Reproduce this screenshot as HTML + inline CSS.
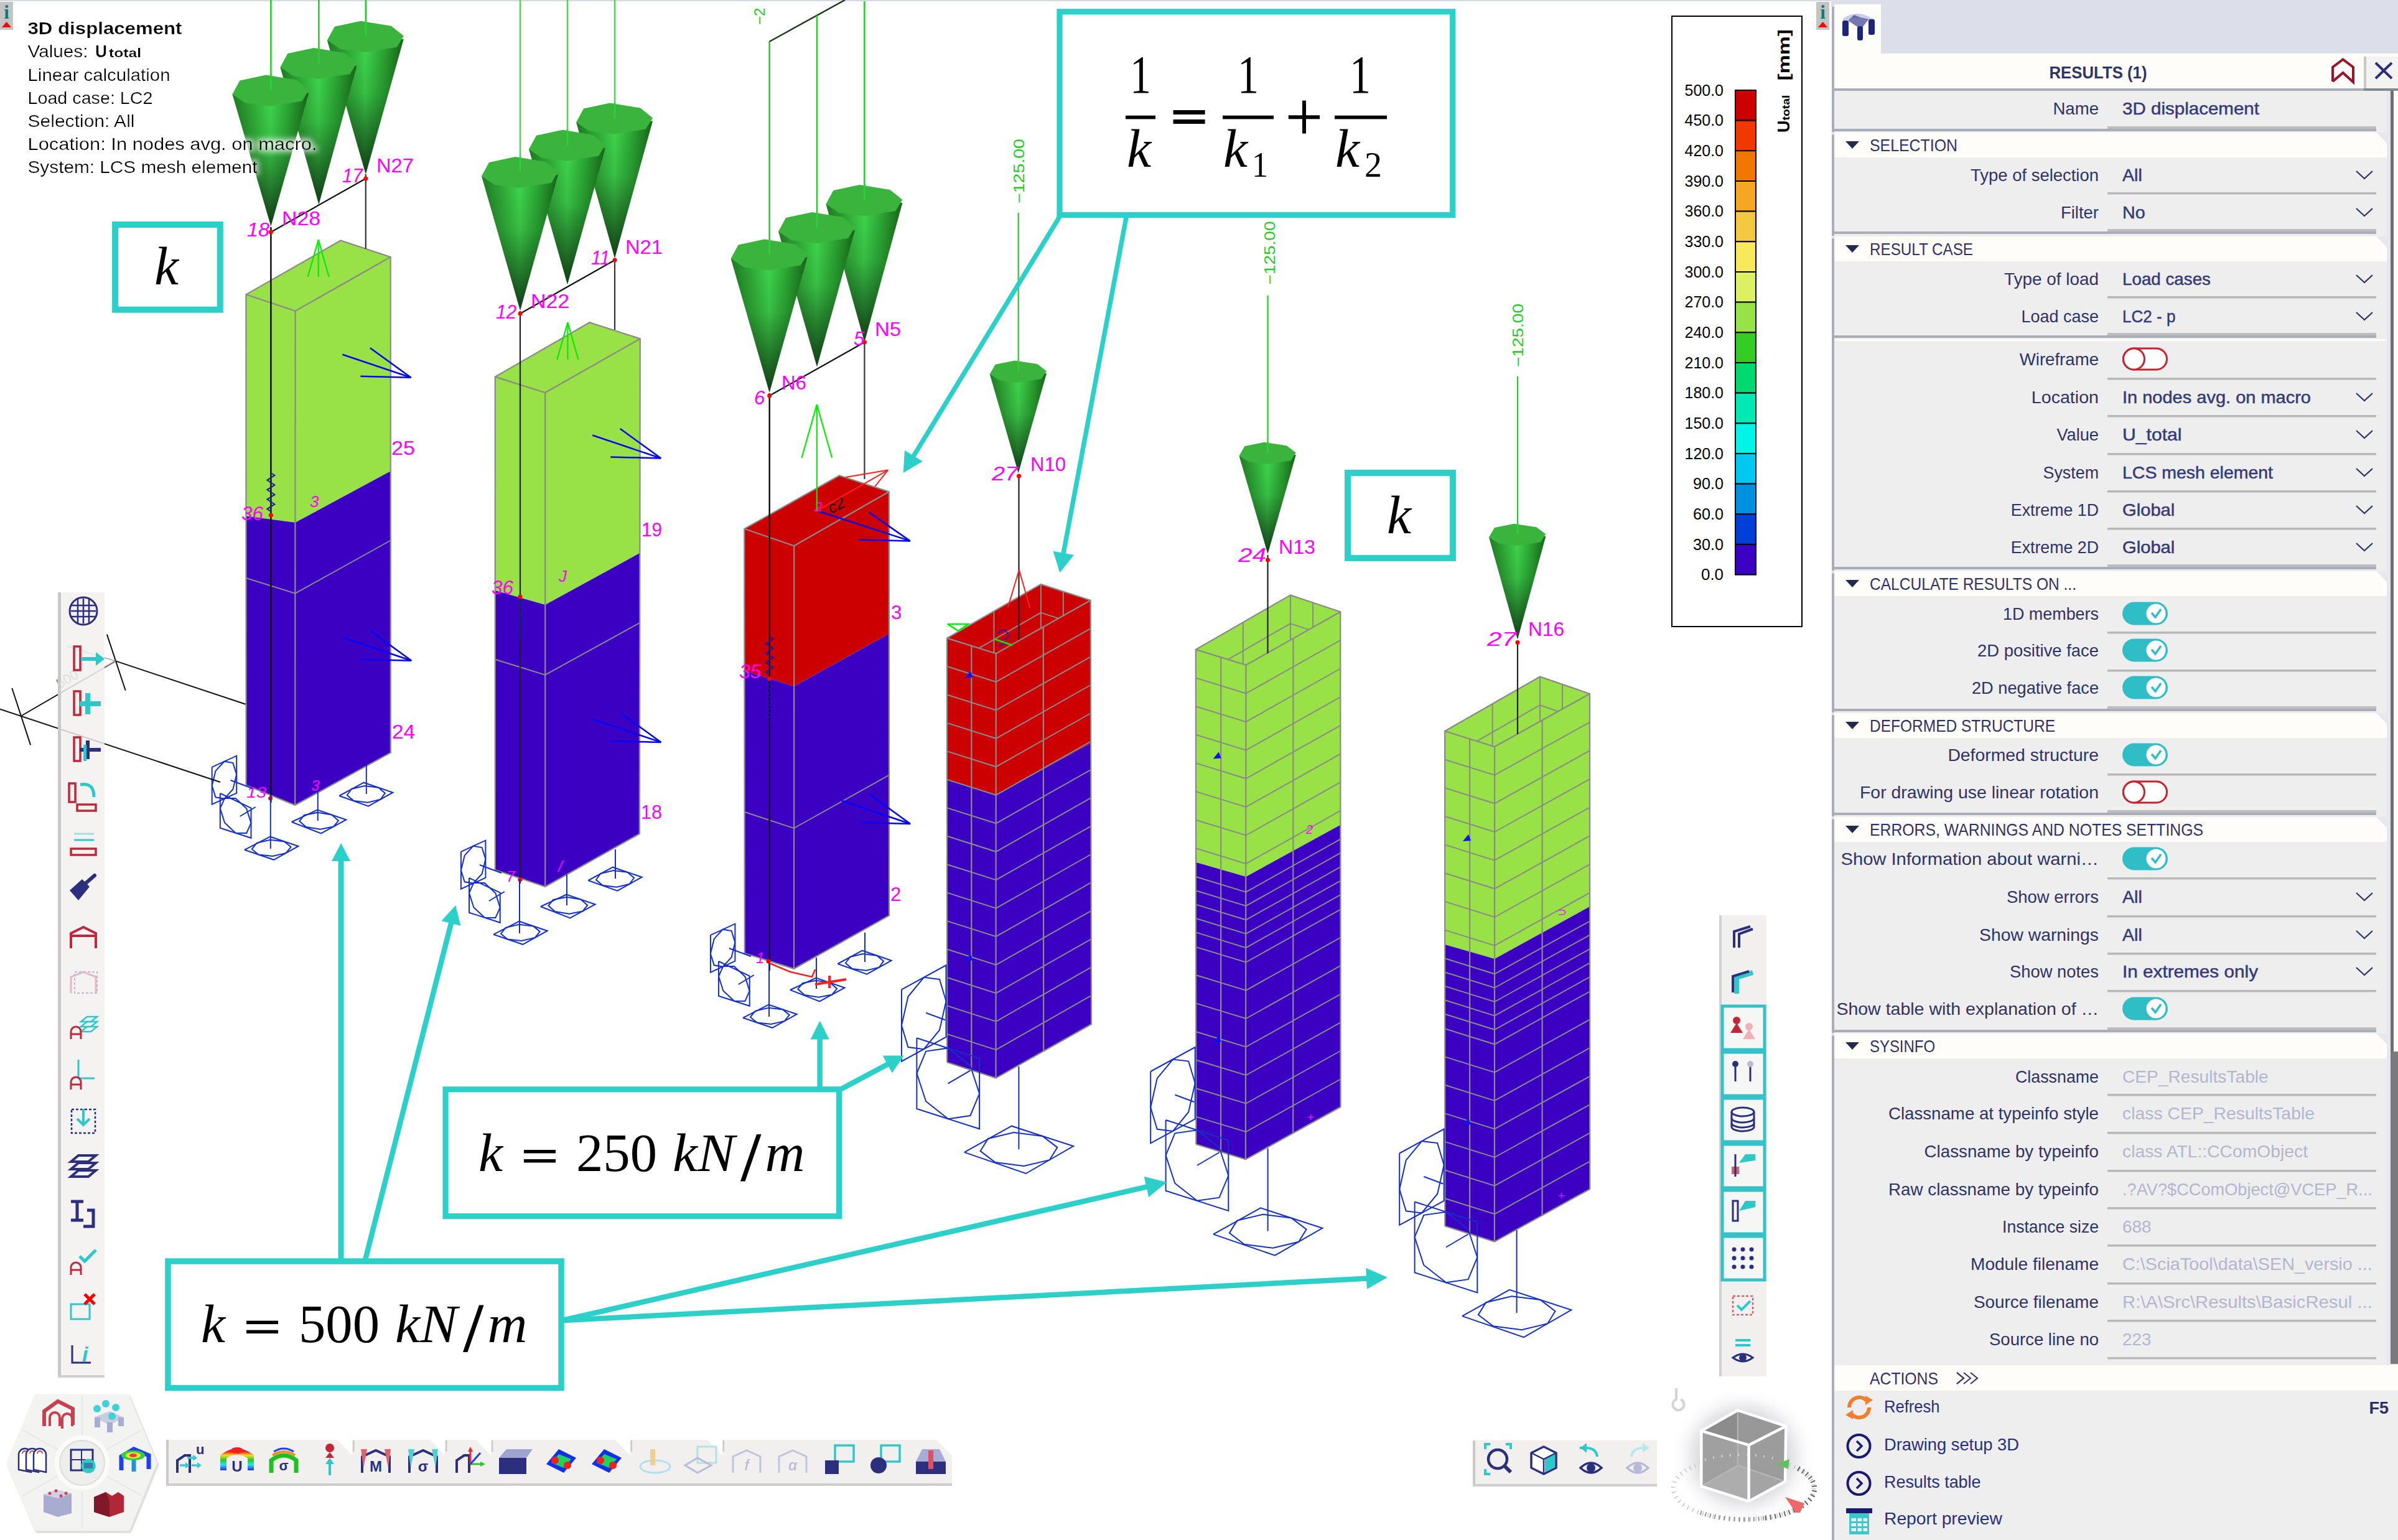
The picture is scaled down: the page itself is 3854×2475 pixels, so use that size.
<!DOCTYPE html><html><head><meta charset="utf-8"><style>html,body{margin:0;padding:0;background:#fff;width:3854px;height:2475px;overflow:hidden}svg{display:block}</style></head><body>
<svg width="3854" height="2475" viewBox="0 0 3854 2475">
<defs>
<linearGradient id="coneH" x1="0" y1="0" x2="1" y2="0">
<stop offset="0" stop-color="#1f7a22"/><stop offset="0.25" stop-color="#2fa836"/><stop offset="0.5" stop-color="#3fd84e"/><stop offset="0.75" stop-color="#2aa432"/><stop offset="1" stop-color="#166318"/></linearGradient>
<linearGradient id="coneV" x1="0" y1="0" x2="0" y2="1">
<stop offset="0" stop-color="#000" stop-opacity="0"/><stop offset="0.4" stop-color="#000" stop-opacity="0.12"/><stop offset="1" stop-color="#000" stop-opacity="0.72"/></linearGradient>
<radialGradient id="cubeGlow" cx="0.5" cy="0.5" r="0.5"><stop offset="0.45" stop-color="#c4c4c8" stop-opacity="0.95"/><stop offset="0.7" stop-color="#e0e0e4" stop-opacity="0.7"/><stop offset="1" stop-color="#fff" stop-opacity="0"/></radialGradient>
<filter id="glow" x="-10%" y="-30%" width="120%" height="160%"><feMorphology in="SourceAlpha" operator="dilate" radius="3" result="d"/><feGaussianBlur in="d" stdDeviation="5" result="b"/><feFlood flood-color="#ffffff" flood-opacity="0.75"/><feComposite in2="b" operator="in" result="w"/><feMerge><feMergeNode in="w"/><feMergeNode in="SourceGraphic"/></feMerge></filter>
<linearGradient id="rainbowV" x1="0" y1="1" x2="0" y2="0"><stop offset="0" stop-color="#2030e0"/><stop offset="0.3" stop-color="#30e0f0"/><stop offset="0.55" stop-color="#30c030"/><stop offset="0.8" stop-color="#f0e020"/><stop offset="1" stop-color="#f02020"/></linearGradient>
</defs>
<rect x="0" y="0" width="3854" height="2475" fill="#ffffff"/>
<rect x="0" y="0" width="3854" height="2" fill="#d6dae6"/>
<rect x="0.0" y="3.0" width="21" height="45" fill="#c4c4c4"/>
<text x="10.5" y="30.0" font-family='"Liberation Serif", serif' font-size="31" fill="#0a7a78" text-anchor="middle" font-weight="bold" font-style="normal" >i</text>
<polygon points="3.0,44.0 10.5,35.0 18.0,44.0" fill="#ff0000" stroke="none" stroke-width="0" />
<rect x="2919.0" y="3.0" width="21" height="45" fill="#c4c4c4"/>
<text x="2929.5" y="30.0" font-family='"Liberation Serif", serif' font-size="31" fill="#0a7a78" text-anchor="middle" font-weight="bold" font-style="normal" >i</text>
<polygon points="2922.0,44.0 2929.5,35.0 2937.0,44.0" fill="#ff0000" stroke="none" stroke-width="0" />
<polygon points="395.4,473.3 547.5,386.5 627.7,413.0 474.6,499.8" fill="#98e146" stroke="none" stroke-width="0" />
<polygon points="395.4,473.3 474.6,499.8 474.6,839.8 395.4,829.5" fill="#98e146" stroke="none" stroke-width="0" />
<polygon points="395.4,829.5 474.6,839.8 474.2,1294.0 395.6,1262.0" fill="#3b00c2" stroke="none" stroke-width="0" />
<polygon points="474.6,499.8 627.7,413.0 627.7,757.2 474.6,839.8" fill="#98e146" stroke="none" stroke-width="0" />
<polygon points="474.6,839.8 627.7,757.2 627.8,1209.7 474.2,1294.0" fill="#3b00c2" stroke="none" stroke-width="0" />
<polyline points="395.6,929.0 474.4,953.7 627.8,868.5" fill="none" stroke="#8a8a8a" stroke-width="2" />
<polyline points="395.6,1262.0 395.4,473.3 547.5,386.5 627.7,413.0 627.8,1209.7 474.2,1294.0 395.6,1262.0" fill="none" stroke="#8a8a8a" stroke-width="2.2" />
<polyline points="395.4,473.3 474.6,499.8 627.7,413.0" fill="none" stroke="#8a8a8a" stroke-width="2.2" />
<line x1="474.6" y1="499.8" x2="474.2" y2="1294.0" stroke="#8a8a8a" stroke-width="2.2" />
<polygon points="795.7,605.6 947.5,518.2 1028.8,544.4 876.2,631.0" fill="#98e146" stroke="none" stroke-width="0" />
<polygon points="795.7,605.6 876.2,631.0 876.2,972.0 795.7,949.0" fill="#98e146" stroke="none" stroke-width="0" />
<polygon points="795.7,949.0 876.2,972.0 876.2,1425.0 795.8,1398.0" fill="#3b00c2" stroke="none" stroke-width="0" />
<polygon points="876.2,631.0 1028.8,544.4 1028.8,888.6 876.2,972.0" fill="#98e146" stroke="none" stroke-width="0" />
<polygon points="876.2,972.0 1028.8,888.6 1027.8,1340.0 876.2,1425.0" fill="#3b00c2" stroke="none" stroke-width="0" />
<polyline points="795.7,1059.8 876.2,1084.7 1028.8,1000.6" fill="none" stroke="#8a8a8a" stroke-width="2" />
<polyline points="795.8,1398.0 795.7,605.6 947.5,518.2 1028.8,544.4 1027.8,1340.0 876.2,1425.0 795.8,1398.0" fill="none" stroke="#8a8a8a" stroke-width="2.2" />
<polyline points="795.7,605.6 876.2,631.0 1028.8,544.4" fill="none" stroke="#8a8a8a" stroke-width="2.2" />
<line x1="876.2" y1="631.0" x2="876.2" y2="1425.0" stroke="#8a8a8a" stroke-width="2.2" />
<polygon points="1196.3,849.8 1349.0,764.3 1428.8,790.3 1276.2,877.3" fill="#cc0000" stroke="none" stroke-width="0" />
<polygon points="1196.3,849.8 1276.2,877.3 1276.2,1103.0 1196.3,1077.8" fill="#cc0000" stroke="none" stroke-width="0" />
<polygon points="1196.3,1077.8 1276.2,1103.0 1276.0,1557.0 1196.8,1532.0" fill="#3b00c2" stroke="none" stroke-width="0" />
<polygon points="1276.2,877.3 1428.8,790.3 1428.8,1018.6 1276.2,1103.0" fill="#cc0000" stroke="none" stroke-width="0" />
<polygon points="1276.2,1103.0 1428.8,1018.6 1429.0,1471.4 1276.0,1557.0" fill="#3b00c2" stroke="none" stroke-width="0" />
<polyline points="1196.8,1305.0 1276.0,1331.0 1429.0,1245.7" fill="none" stroke="#8a8a8a" stroke-width="2" />
<polyline points="1196.8,1532.0 1196.3,849.8 1349.0,764.3 1428.8,790.3 1429.0,1471.4 1276.0,1557.0 1196.8,1532.0" fill="none" stroke="#8a8a8a" stroke-width="2.2" />
<polyline points="1196.3,849.8 1276.2,877.3 1428.8,790.3" fill="none" stroke="#8a8a8a" stroke-width="2.2" />
<line x1="1276.2" y1="877.3" x2="1276.0" y2="1557.0" stroke="#8a8a8a" stroke-width="2.2" />
<polygon points="1521.9,1025.6 1672.9,938.9 1752.7,964.8 1600.8,1050.4" fill="#cc0000" stroke="none" stroke-width="0" />
<line x1="1521.9" y1="1071.3" x2="1672.9" y2="984.6" stroke="#8a8a8a" stroke-width="2" />
<line x1="1672.9" y1="984.6" x2="1752.7" y2="1010.5" stroke="#8a8a8a" stroke-width="2" />
<line x1="1672.9" y1="938.9" x2="1672.9" y2="1030.3" stroke="#8a8a8a" stroke-width="2" />
<line x1="1597.4" y1="982.2" x2="1597.4" y2="1119.3" stroke="#8a8a8a" stroke-width="2" />
<line x1="1708.8" y1="950.6" x2="1708.8" y2="1042.0" stroke="#8a8a8a" stroke-width="2" />
<polygon points="1521.9,1025.6 1600.8,1050.4 1600.8,1277.7 1521.9,1253.5" fill="#cc0000" stroke="none" stroke-width="0" />
<polygon points="1521.9,1253.5 1600.8,1277.7 1600.5,1732.6 1522.1,1707.3" fill="#3b00c2" stroke="none" stroke-width="0" />
<polygon points="1600.8,1050.4 1752.7,964.8 1752.7,1194.5 1600.8,1277.7" fill="#cc0000" stroke="none" stroke-width="0" />
<polygon points="1600.8,1277.7 1752.7,1194.5 1754.0,1646.0 1600.5,1732.6" fill="#3b00c2" stroke="none" stroke-width="0" />
<polyline points="1521.9,1071.0 1600.8,1095.9 1752.7,1010.2" fill="none" stroke="#8a8a8a" stroke-width="2" />
<polyline points="1521.9,1116.5 1600.8,1141.4 1752.7,1055.6" fill="none" stroke="#8a8a8a" stroke-width="2" />
<polyline points="1521.9,1161.9 1600.8,1186.8 1752.7,1101.0" fill="none" stroke="#8a8a8a" stroke-width="2" />
<polyline points="1521.9,1207.4 1600.8,1232.3 1752.7,1146.5" fill="none" stroke="#8a8a8a" stroke-width="2" />
<polyline points="1521.9,1252.8 1600.8,1277.8 1752.7,1191.9" fill="none" stroke="#8a8a8a" stroke-width="2" />
<polyline points="1521.9,1298.3 1600.8,1323.3 1752.7,1237.3" fill="none" stroke="#8a8a8a" stroke-width="2" />
<polyline points="1521.9,1343.7 1600.8,1368.8 1752.7,1282.7" fill="none" stroke="#8a8a8a" stroke-width="2" />
<polyline points="1521.9,1389.2 1600.8,1414.2 1752.7,1328.1" fill="none" stroke="#8a8a8a" stroke-width="2" />
<polyline points="1521.9,1434.6 1600.8,1459.7 1752.7,1373.5" fill="none" stroke="#8a8a8a" stroke-width="2" />
<polyline points="1521.9,1480.1 1600.8,1505.2 1752.7,1418.9" fill="none" stroke="#8a8a8a" stroke-width="2" />
<polyline points="1521.9,1525.5 1600.8,1550.7 1752.7,1464.3" fill="none" stroke="#8a8a8a" stroke-width="2" />
<polyline points="1521.9,1571.0 1600.8,1596.2 1752.7,1509.8" fill="none" stroke="#8a8a8a" stroke-width="2" />
<polyline points="1521.9,1616.4 1600.8,1641.6 1752.7,1555.2" fill="none" stroke="#8a8a8a" stroke-width="2" />
<polyline points="1521.9,1661.9 1600.8,1687.1 1752.7,1600.6" fill="none" stroke="#8a8a8a" stroke-width="2" />
<line x1="1561.3" y1="1038.0" x2="1561.3" y2="1719.9" stroke="#8a8a8a" stroke-width="2.2" />
<line x1="1676.8" y1="1007.6" x2="1677.2" y2="1689.3" stroke="#8a8a8a" stroke-width="2.2" />
<polyline points="1522.1,1707.3 1521.9,1025.6 1672.9,938.9 1752.7,964.8 1754.0,1646.0 1600.5,1732.6 1522.1,1707.3" fill="none" stroke="#8a8a8a" stroke-width="2.2" />
<polyline points="1521.9,1025.6 1600.8,1050.4 1752.7,964.8" fill="none" stroke="#8a8a8a" stroke-width="2.2" />
<line x1="1600.8" y1="1050.4" x2="1600.5" y2="1732.6" stroke="#8a8a8a" stroke-width="2.2" />
<polygon points="1921.8,1043.9 2073.9,956.4 2154.3,983.2 2002.5,1068.9" fill="#98e146" stroke="none" stroke-width="0" />
<line x1="1921.8" y1="1089.6" x2="2073.9" y2="1002.1" stroke="#8a8a8a" stroke-width="2" />
<line x1="2073.9" y1="1002.1" x2="2154.3" y2="1028.9" stroke="#8a8a8a" stroke-width="2" />
<line x1="2073.9" y1="956.4" x2="2073.9" y2="1047.8" stroke="#8a8a8a" stroke-width="2" />
<line x1="1997.8" y1="1000.2" x2="1997.8" y2="1137.2" stroke="#8a8a8a" stroke-width="2" />
<line x1="2110.1" y1="968.5" x2="2110.1" y2="1059.9" stroke="#8a8a8a" stroke-width="2" />
<polygon points="1921.8,1043.9 2002.5,1068.9 2002.5,1409.0 1921.8,1385.7" fill="#98e146" stroke="none" stroke-width="0" />
<polygon points="1921.8,1385.7 2002.5,1409.0 2001.9,1863.4 1922.3,1839.0" fill="#3b00c2" stroke="none" stroke-width="0" />
<polygon points="2002.5,1068.9 2154.3,983.2 2154.3,1325.7 2002.5,1409.0" fill="#98e146" stroke="none" stroke-width="0" />
<polygon points="2002.5,1409.0 2154.3,1325.7 2154.5,1779.0 2001.9,1863.4" fill="#3b00c2" stroke="none" stroke-width="0" />
<polyline points="1921.8,1089.5 2002.5,1114.5 2154.3,1028.9" fill="none" stroke="#8a8a8a" stroke-width="2" />
<polyline points="1921.8,1135.2 2002.5,1160.1 2154.3,1074.5" fill="none" stroke="#8a8a8a" stroke-width="2" />
<polyline points="1921.8,1180.8 2002.5,1205.7 2154.3,1120.2" fill="none" stroke="#8a8a8a" stroke-width="2" />
<polyline points="1921.8,1226.4 2002.5,1251.3 2154.3,1165.9" fill="none" stroke="#8a8a8a" stroke-width="2" />
<polyline points="1921.8,1272.1 2002.5,1296.9 2154.3,1211.6" fill="none" stroke="#8a8a8a" stroke-width="2" />
<polyline points="1921.8,1317.7 2002.5,1342.5 2154.3,1257.2" fill="none" stroke="#8a8a8a" stroke-width="2" />
<polyline points="1921.8,1363.3 2002.5,1388.1 2154.3,1302.9" fill="none" stroke="#8a8a8a" stroke-width="2" />
<polyline points="1921.8,1409.0 2002.5,1433.7 2154.3,1348.6" fill="none" stroke="#8a8a8a" stroke-width="2" />
<polyline points="1921.8,1431.2 2002.5,1455.9 2154.3,1370.8" fill="none" stroke="#8a8a8a" stroke-width="2" />
<polyline points="1921.8,1453.6 2002.5,1478.3 2154.3,1393.3" fill="none" stroke="#8a8a8a" stroke-width="2" />
<polyline points="1921.8,1476.0 2002.5,1500.7 2154.3,1415.7" fill="none" stroke="#8a8a8a" stroke-width="2" />
<polyline points="1921.8,1498.4 2002.5,1523.1 2154.3,1438.1" fill="none" stroke="#8a8a8a" stroke-width="2" />
<polyline points="1921.8,1521.9 2002.5,1546.5 2154.3,1461.6" fill="none" stroke="#8a8a8a" stroke-width="2" />
<polyline points="1921.8,1567.0 2002.5,1591.6 2154.3,1506.8" fill="none" stroke="#8a8a8a" stroke-width="2" />
<polyline points="1921.8,1612.4 2002.5,1637.0 2154.3,1552.2" fill="none" stroke="#8a8a8a" stroke-width="2" />
<polyline points="1921.8,1658.0 2002.5,1682.5 2154.3,1597.8" fill="none" stroke="#8a8a8a" stroke-width="2" />
<polyline points="1921.8,1703.5 2002.5,1728.0 2154.3,1643.4" fill="none" stroke="#8a8a8a" stroke-width="2" />
<polyline points="1921.8,1749.0 2002.5,1773.5 2154.3,1689.0" fill="none" stroke="#8a8a8a" stroke-width="2" />
<polyline points="1921.8,1794.6 2002.5,1819.0 2154.3,1734.5" fill="none" stroke="#8a8a8a" stroke-width="2" />
<line x1="1962.2" y1="1056.4" x2="1962.1" y2="1851.2" stroke="#8a8a8a" stroke-width="2.2" />
<line x1="2078.4" y1="1026.1" x2="2078.2" y2="1821.2" stroke="#8a8a8a" stroke-width="2.2" />
<polyline points="1922.3,1839.0 1921.8,1043.9 2073.9,956.4 2154.3,983.2 2154.5,1779.0 2001.9,1863.4 1922.3,1839.0" fill="none" stroke="#8a8a8a" stroke-width="2.2" />
<polyline points="1921.8,1043.9 2002.5,1068.9 2154.3,983.2" fill="none" stroke="#8a8a8a" stroke-width="2.2" />
<line x1="2002.5" y1="1068.9" x2="2001.9" y2="1863.4" stroke="#8a8a8a" stroke-width="2.2" />
<polygon points="2322.1,1175.0 2475.0,1087.5 2555.0,1115.0 2402.1,1200.0" fill="#98e146" stroke="none" stroke-width="0" />
<line x1="2322.1" y1="1220.7" x2="2475.0" y2="1133.2" stroke="#8a8a8a" stroke-width="2" />
<line x1="2475.0" y1="1133.2" x2="2555.0" y2="1160.7" stroke="#8a8a8a" stroke-width="2" />
<line x1="2475.0" y1="1087.5" x2="2475.0" y2="1178.9" stroke="#8a8a8a" stroke-width="2" />
<line x1="2398.6" y1="1131.2" x2="2398.6" y2="1268.3" stroke="#8a8a8a" stroke-width="2" />
<line x1="2511.0" y1="1099.9" x2="2511.0" y2="1191.3" stroke="#8a8a8a" stroke-width="2" />
<polygon points="2322.1,1175.0 2402.1,1200.0 2402.1,1541.0 2322.1,1517.9" fill="#98e146" stroke="none" stroke-width="0" />
<polygon points="2322.1,1517.9 2402.1,1541.0 2401.9,1995.6 2322.3,1970.5" fill="#3b00c2" stroke="none" stroke-width="0" />
<polygon points="2402.1,1200.0 2555.0,1115.0 2555.0,1457.0 2402.1,1541.0" fill="#98e146" stroke="none" stroke-width="0" />
<polygon points="2402.1,1541.0 2555.0,1457.0 2555.2,1911.0 2401.9,1995.6" fill="#3b00c2" stroke="none" stroke-width="0" />
<polyline points="2322.1,1220.7 2402.1,1245.7 2555.0,1160.7" fill="none" stroke="#8a8a8a" stroke-width="2" />
<polyline points="2322.1,1266.3 2402.1,1291.3 2555.0,1206.4" fill="none" stroke="#8a8a8a" stroke-width="2" />
<polyline points="2322.1,1312.0 2402.1,1337.0 2555.0,1252.1" fill="none" stroke="#8a8a8a" stroke-width="2" />
<polyline points="2322.1,1357.6 2402.1,1382.7 2555.0,1297.7" fill="none" stroke="#8a8a8a" stroke-width="2" />
<polyline points="2322.1,1403.3 2402.1,1428.3 2555.0,1343.4" fill="none" stroke="#8a8a8a" stroke-width="2" />
<polyline points="2322.1,1448.9 2402.1,1474.0 2555.0,1389.1" fill="none" stroke="#8a8a8a" stroke-width="2" />
<polyline points="2322.1,1494.6 2402.1,1519.6 2555.0,1434.8" fill="none" stroke="#8a8a8a" stroke-width="2" />
<polyline points="2322.1,1540.3 2402.1,1565.3 2555.0,1480.5" fill="none" stroke="#8a8a8a" stroke-width="2" />
<polyline points="2322.1,1562.5 2402.1,1587.5 2555.0,1502.7" fill="none" stroke="#8a8a8a" stroke-width="2" />
<polyline points="2322.1,1584.9 2402.1,1610.0 2555.0,1525.2" fill="none" stroke="#8a8a8a" stroke-width="2" />
<polyline points="2322.1,1607.3 2402.1,1632.4 2555.0,1547.6" fill="none" stroke="#8a8a8a" stroke-width="2" />
<polyline points="2322.1,1629.8 2402.1,1654.8 2555.0,1570.1" fill="none" stroke="#8a8a8a" stroke-width="2" />
<polyline points="2322.1,1653.2 2402.1,1678.3 2555.0,1593.5" fill="none" stroke="#8a8a8a" stroke-width="2" />
<polyline points="2322.1,1698.4 2402.1,1723.4 2555.0,1638.7" fill="none" stroke="#8a8a8a" stroke-width="2" />
<polyline points="2322.1,1743.8 2402.1,1768.9 2555.0,1684.2" fill="none" stroke="#8a8a8a" stroke-width="2" />
<polyline points="2322.1,1789.4 2402.1,1814.4 2555.0,1729.8" fill="none" stroke="#8a8a8a" stroke-width="2" />
<polyline points="2322.1,1834.9 2402.1,1860.0 2555.0,1775.3" fill="none" stroke="#8a8a8a" stroke-width="2" />
<polyline points="2322.1,1880.5 2402.1,1905.6 2555.0,1820.9" fill="none" stroke="#8a8a8a" stroke-width="2" />
<polyline points="2322.1,1926.0 2402.1,1951.1 2555.0,1866.5" fill="none" stroke="#8a8a8a" stroke-width="2" />
<line x1="2362.1" y1="1187.5" x2="2362.1" y2="1983.0" stroke="#8a8a8a" stroke-width="2.2" />
<line x1="2478.6" y1="1157.5" x2="2478.6" y2="1953.3" stroke="#8a8a8a" stroke-width="2.2" />
<polyline points="2322.3,1970.5 2322.1,1175.0 2475.0,1087.5 2555.0,1115.0 2555.2,1911.0 2401.9,1995.6 2322.3,1970.5" fill="none" stroke="#8a8a8a" stroke-width="2.2" />
<polyline points="2322.1,1175.0 2402.1,1200.0 2555.0,1115.0" fill="none" stroke="#8a8a8a" stroke-width="2.2" />
<line x1="2402.1" y1="1200.0" x2="2401.9" y2="1995.6" stroke="#8a8a8a" stroke-width="2.2" />
<line x1="587.8" y1="0.0" x2="587.8" y2="62.7" stroke="#22cc22" stroke-width="2.5" />
<line x1="512.4" y1="0.0" x2="512.4" y2="106.0" stroke="#22cc22" stroke-width="2.5" />
<line x1="435.4" y1="0.0" x2="435.4" y2="149.4" stroke="#22cc22" stroke-width="2.5" />
<polygon points="525.8,64.7 648.8,62.7 587.8,280.0" fill="url(#coneH)" stroke="none" stroke-width="0" />
<polygon points="525.8,64.7 648.8,62.7 587.8,280.0" fill="url(#coneV)" stroke="none" stroke-width="0" />
<polygon points="525.8,64.7 537.8,42.7 579.8,33.7 628.8,41.7 648.8,57.7 637.8,75.7 586.8,83.7 546.8,78.7" fill="#3bb43d" stroke="none" stroke-width="0" />
<line x1="587.8" y1="32.7" x2="587.8" y2="58.7" stroke="#2cd03a" stroke-width="2.5" />
<polygon points="450.4,108.0 573.4,106.0 512.4,328.6" fill="url(#coneH)" stroke="none" stroke-width="0" />
<polygon points="450.4,108.0 573.4,106.0 512.4,328.6" fill="url(#coneV)" stroke="none" stroke-width="0" />
<polygon points="450.4,108.0 462.4,86.0 504.4,77.0 553.4,85.0 573.4,101.0 562.4,119.0 511.4,127.0 471.4,122.0" fill="#3bb43d" stroke="none" stroke-width="0" />
<line x1="512.4" y1="76.0" x2="512.4" y2="102.0" stroke="#2cd03a" stroke-width="2.5" />
<polygon points="373.4,151.4 496.4,149.4 435.4,363.6" fill="url(#coneH)" stroke="none" stroke-width="0" />
<polygon points="373.4,151.4 496.4,149.4 435.4,363.6" fill="url(#coneV)" stroke="none" stroke-width="0" />
<polygon points="373.4,151.4 385.4,129.4 427.4,120.4 476.4,128.4 496.4,144.4 485.4,162.4 434.4,170.4 394.4,165.4" fill="#3bb43d" stroke="none" stroke-width="0" />
<line x1="435.4" y1="119.4" x2="435.4" y2="145.4" stroke="#2cd03a" stroke-width="2.5" />
<line x1="988.0" y1="0.0" x2="988.0" y2="194.5" stroke="#4ed84e" stroke-width="2.5" />
<line x1="912.0" y1="0.0" x2="912.0" y2="237.8" stroke="#4ed84e" stroke-width="2.5" />
<line x1="836.0" y1="0.0" x2="836.0" y2="281.0" stroke="#4ed84e" stroke-width="2.5" />
<polygon points="926.0,196.5 1049.0,194.5 988.0,415.0" fill="url(#coneH)" stroke="none" stroke-width="0" />
<polygon points="926.0,196.5 1049.0,194.5 988.0,415.0" fill="url(#coneV)" stroke="none" stroke-width="0" />
<polygon points="926.0,196.5 938.0,174.5 980.0,165.5 1029.0,173.5 1049.0,189.5 1038.0,207.5 987.0,215.5 947.0,210.5" fill="#3bb43d" stroke="none" stroke-width="0" />
<line x1="988.0" y1="164.5" x2="988.0" y2="190.5" stroke="#2cd03a" stroke-width="2.5" />
<polygon points="850.0,239.8 973.0,237.8 912.0,457.0" fill="url(#coneH)" stroke="none" stroke-width="0" />
<polygon points="850.0,239.8 973.0,237.8 912.0,457.0" fill="url(#coneV)" stroke="none" stroke-width="0" />
<polygon points="850.0,239.8 862.0,217.8 904.0,208.8 953.0,216.8 973.0,232.8 962.0,250.8 911.0,258.8 871.0,253.8" fill="#3bb43d" stroke="none" stroke-width="0" />
<line x1="912.0" y1="207.8" x2="912.0" y2="233.8" stroke="#2cd03a" stroke-width="2.5" />
<polygon points="774.0,283.0 897.0,281.0 836.0,499.0" fill="url(#coneH)" stroke="none" stroke-width="0" />
<polygon points="774.0,283.0 897.0,281.0 836.0,499.0" fill="url(#coneV)" stroke="none" stroke-width="0" />
<polygon points="774.0,283.0 786.0,261.0 828.0,252.0 877.0,260.0 897.0,276.0 886.0,294.0 835.0,302.0 795.0,297.0" fill="#3bb43d" stroke="none" stroke-width="0" />
<line x1="836.0" y1="251.0" x2="836.0" y2="277.0" stroke="#2cd03a" stroke-width="2.5" />
<line x1="1236.3" y1="67.0" x2="1358.0" y2="0.0" stroke="#1a3a1a" stroke-width="2.5" />
<line x1="1236.6" y1="67.0" x2="1236.6" y2="420.0" stroke="#22cc22" stroke-width="2.5" />
<line x1="1313.0" y1="25.0" x2="1313.0" y2="370.0" stroke="#22cc22" stroke-width="2.5" />
<line x1="1389.3" y1="2.0" x2="1389.3" y2="330.0" stroke="#22cc22" stroke-width="2.5" />
<polygon points="1327.4,328.0 1450.4,326.0 1389.4,549.6" fill="url(#coneH)" stroke="none" stroke-width="0" />
<polygon points="1327.4,328.0 1450.4,326.0 1389.4,549.6" fill="url(#coneV)" stroke="none" stroke-width="0" />
<polygon points="1327.4,328.0 1339.4,306.0 1381.4,297.0 1430.4,305.0 1450.4,321.0 1439.4,339.0 1388.4,347.0 1348.4,342.0" fill="#3bb43d" stroke="none" stroke-width="0" />
<line x1="1389.4" y1="296.0" x2="1389.4" y2="322.0" stroke="#2cd03a" stroke-width="2.5" />
<polygon points="1251.0,372.0 1374.0,370.0 1313.0,589.6" fill="url(#coneH)" stroke="none" stroke-width="0" />
<polygon points="1251.0,372.0 1374.0,370.0 1313.0,589.6" fill="url(#coneV)" stroke="none" stroke-width="0" />
<polygon points="1251.0,372.0 1263.0,350.0 1305.0,341.0 1354.0,349.0 1374.0,365.0 1363.0,383.0 1312.0,391.0 1272.0,386.0" fill="#3bb43d" stroke="none" stroke-width="0" />
<line x1="1313.0" y1="340.0" x2="1313.0" y2="366.0" stroke="#2cd03a" stroke-width="2.5" />
<polygon points="1174.6,415.4 1297.6,413.4 1236.6,631.0" fill="url(#coneH)" stroke="none" stroke-width="0" />
<polygon points="1174.6,415.4 1297.6,413.4 1236.6,631.0" fill="url(#coneV)" stroke="none" stroke-width="0" />
<polygon points="1174.6,415.4 1186.6,393.4 1228.6,384.4 1277.6,392.4 1297.6,408.4 1286.6,426.4 1235.6,434.4 1195.6,429.4" fill="#3bb43d" stroke="none" stroke-width="0" />
<line x1="1236.6" y1="383.4" x2="1236.6" y2="409.4" stroke="#2cd03a" stroke-width="2.5" />
<line x1="1636.7" y1="342.0" x2="1636.7" y2="598.8" stroke="#22cc22" stroke-width="2.2" />
<polygon points="1590.7,601.3 1682.0,599.9 1636.7,760.0" fill="url(#coneH)" stroke="none" stroke-width="0" />
<polygon points="1590.7,601.3 1682.0,599.9 1636.7,760.0" fill="url(#coneV)" stroke="none" stroke-width="0" />
<polygon points="1590.7,601.3 1599.6,585.8 1630.8,579.5 1667.1,585.1 1682.0,596.4 1673.8,609.1 1636.0,614.7 1606.3,611.2" fill="#3bb43d" stroke="none" stroke-width="0" />
<line x1="1636.7" y1="578.8" x2="1636.7" y2="597.1" stroke="#2cd03a" stroke-width="2.5" />
<line x1="2037.5" y1="475.0" x2="2037.5" y2="730.0" stroke="#22cc22" stroke-width="2.2" />
<polygon points="1991.5,732.5 2082.8,731.1 2037.5,890.0" fill="url(#coneH)" stroke="none" stroke-width="0" />
<polygon points="1991.5,732.5 2082.8,731.1 2037.5,890.0" fill="url(#coneV)" stroke="none" stroke-width="0" />
<polygon points="1991.5,732.5 2000.4,717.0 2031.6,710.7 2067.9,716.3 2082.8,727.6 2074.6,740.3 2036.8,745.9 2007.1,742.4" fill="#3bb43d" stroke="none" stroke-width="0" />
<line x1="2037.5" y1="710.0" x2="2037.5" y2="728.3" stroke="#2cd03a" stroke-width="2.5" />
<line x1="2439.0" y1="605.0" x2="2439.0" y2="861.0" stroke="#22cc22" stroke-width="2.2" />
<polygon points="2393.0,863.5 2484.3,862.1 2439.0,1027.5" fill="url(#coneH)" stroke="none" stroke-width="0" />
<polygon points="2393.0,863.5 2484.3,862.1 2439.0,1027.5" fill="url(#coneV)" stroke="none" stroke-width="0" />
<polygon points="2393.0,863.5 2401.9,848.0 2433.1,841.7 2469.4,847.3 2484.3,858.6 2476.1,871.3 2438.3,876.9 2408.6,873.4" fill="#3bb43d" stroke="none" stroke-width="0" />
<line x1="2439.0" y1="841.0" x2="2439.0" y2="859.3" stroke="#2cd03a" stroke-width="2.5" />
<text transform="translate(1646.0,327.0) rotate(-90)" font-family='"Liberation Sans", sans-serif' font-size="24" fill="#22cc22" textLength="104.0" lengthAdjust="spacingAndGlyphs">−125.00</text>
<text transform="translate(2048.5,457.5) rotate(-90)" font-family='"Liberation Sans", sans-serif' font-size="24" fill="#22cc22" textLength="102.0" lengthAdjust="spacingAndGlyphs">−125.00</text>
<text transform="translate(2448.0,590.0) rotate(-90)" font-family='"Liberation Sans", sans-serif' font-size="24" fill="#22cc22" textLength="102.0" lengthAdjust="spacingAndGlyphs">−125.00</text>
<text transform="translate(1229.0,40.0) rotate(-90)" font-family='"Liberation Sans", sans-serif' font-size="24" fill="#22cc22">−2</text>
<line x1="435.4" y1="373.0" x2="587.8" y2="287.0" stroke="#111" stroke-width="2.2" />
<line x1="587.8" y1="280.0" x2="587.8" y2="400.0" stroke="#333" stroke-width="2.2" />
<line x1="435.4" y1="365.0" x2="435.4" y2="1290.0" stroke="#111" stroke-width="2.5" />
<line x1="836.0" y1="504.0" x2="988.0" y2="418.0" stroke="#111" stroke-width="2.2" />
<line x1="988.0" y1="418.0" x2="988.0" y2="530.0" stroke="#333" stroke-width="2.2" />
<line x1="836.0" y1="500.0" x2="836.0" y2="1420.0" stroke="#222" stroke-width="2.2" />
<line x1="1236.6" y1="636.0" x2="1389.4" y2="550.0" stroke="#111" stroke-width="2.2" />
<line x1="1389.4" y1="550.0" x2="1389.4" y2="770.0" stroke="#333" stroke-width="2.2" />
<line x1="1236.7" y1="632.0" x2="1236.7" y2="1560.0" stroke="#111" stroke-width="2.5" />
<line x1="1637.5" y1="762.0" x2="1637.5" y2="1028.0" stroke="#222" stroke-width="2.2" />
<line x1="2037.5" y1="892.0" x2="2037.5" y2="1050.0" stroke="#222" stroke-width="2.2" />
<line x1="2439.0" y1="1029.0" x2="2439.0" y2="1180.0" stroke="#222" stroke-width="2.2" />
<circle cx="435.4" cy="373.0" r="3.5" fill="#ff0000"/>
<circle cx="587.8" cy="287.0" r="3.5" fill="#ff0000"/>
<circle cx="836.0" cy="504.0" r="3.5" fill="#ff0000"/>
<circle cx="988.0" cy="418.0" r="3.5" fill="#ff0000"/>
<circle cx="1236.6" cy="636.0" r="3.5" fill="#ff0000"/>
<circle cx="1389.4" cy="550.0" r="3.5" fill="#ff0000"/>
<circle cx="1637.5" cy="765.0" r="3.5" fill="#ff0000"/>
<circle cx="2037.5" cy="900.0" r="3.5" fill="#ff0000"/>
<circle cx="2439.0" cy="1032.5" r="3.5" fill="#ff0000"/>
<circle cx="435.4" cy="828.0" r="3.5" fill="#ff0000"/>
<circle cx="836.0" cy="959.0" r="3.5" fill="#ff0000"/>
<circle cx="1236.7" cy="1091.0" r="3.5" fill="#ff0000"/>
<circle cx="434.6" cy="1283.0" r="3.5" fill="#ff0000"/>
<circle cx="835.8" cy="1413.7" r="3.5" fill="#ff0000"/>
<circle cx="1235.0" cy="1545.0" r="3.5" fill="#ff0000"/>
<g filter="url(#glow)">
<text x="44.5" y="55.3" font-family='"Liberation Sans", sans-serif' font-size="28.5" fill="#000" text-anchor="start" font-weight="bold" font-style="normal" textLength="248.0" lengthAdjust="spacingAndGlyphs" >3D displacement</text>
<text x="44.5" y="92.2" font-family='"Liberation Sans", sans-serif' font-size="28.5" fill="#000" text-anchor="start" font-weight="normal" font-style="normal" textLength="97.0" lengthAdjust="spacingAndGlyphs" >Values: </text>
<text x="153.0" y="92.2" font-family='"Liberation Sans", sans-serif' font-size="28.5" fill="#000" text-anchor="start" font-weight="bold" font-style="normal" textLength="19.0" lengthAdjust="spacingAndGlyphs" >U</text>
<text x="175.0" y="92.2" font-family='"Liberation Sans", sans-serif' font-size="20" fill="#000" text-anchor="start" font-weight="bold" font-style="normal" textLength="52.0" lengthAdjust="spacingAndGlyphs" >total</text>
<text x="44.5" y="130.0" font-family='"Liberation Sans", sans-serif' font-size="28.5" fill="#000" text-anchor="start" font-weight="normal" font-style="normal" textLength="229.0" lengthAdjust="spacingAndGlyphs" >Linear calculation</text>
<text x="44.5" y="167.0" font-family='"Liberation Sans", sans-serif' font-size="28.5" fill="#000" text-anchor="start" font-weight="normal" font-style="normal" textLength="201.0" lengthAdjust="spacingAndGlyphs" >Load case: LC2</text>
<text x="44.5" y="204.0" font-family='"Liberation Sans", sans-serif' font-size="28.5" fill="#000" text-anchor="start" font-weight="normal" font-style="normal" textLength="172.0" lengthAdjust="spacingAndGlyphs" >Selection: All</text>
<text x="44.5" y="240.7" font-family='"Liberation Sans", sans-serif' font-size="28.5" fill="#000" text-anchor="start" font-weight="normal" font-style="normal" textLength="465.0" lengthAdjust="spacingAndGlyphs" >Location: In nodes avg. on macro.</text>
<text x="44.5" y="277.6" font-family='"Liberation Sans", sans-serif' font-size="28.5" fill="#000" text-anchor="start" font-weight="normal" font-style="normal" textLength="369.0" lengthAdjust="spacingAndGlyphs" >System: LCS mesh element</text>
</g>
<text x="605.0" y="277.0" font-family='"Liberation Sans", sans-serif' font-size="31" fill="#ff00ff" text-anchor="start" font-weight="normal" font-style="normal" textLength="60.0" lengthAdjust="spacingAndGlyphs" >N27</text>
<text x="550.0" y="293.0" font-family='"Liberation Sans", sans-serif' font-size="31" fill="#ff00ff" text-anchor="start" font-weight="normal" font-style="italic" textLength="33.0" lengthAdjust="spacingAndGlyphs" >17</text>
<text x="453.0" y="362.0" font-family='"Liberation Sans", sans-serif' font-size="31" fill="#ff00ff" text-anchor="start" font-weight="normal" font-style="normal" textLength="62.0" lengthAdjust="spacingAndGlyphs" >N28</text>
<text x="397.0" y="380.0" font-family='"Liberation Sans", sans-serif' font-size="31" fill="#ff00ff" text-anchor="start" font-weight="normal" font-style="italic" textLength="36.0" lengthAdjust="spacingAndGlyphs" >18</text>
<text x="1005.0" y="408.0" font-family='"Liberation Sans", sans-serif' font-size="31" fill="#ff00ff" text-anchor="start" font-weight="normal" font-style="normal" textLength="60.0" lengthAdjust="spacingAndGlyphs" >N21</text>
<text x="950.0" y="425.0" font-family='"Liberation Sans", sans-serif' font-size="31" fill="#ff00ff" text-anchor="start" font-weight="normal" font-style="italic" textLength="30.0" lengthAdjust="spacingAndGlyphs" >11</text>
<text x="853.0" y="495.0" font-family='"Liberation Sans", sans-serif' font-size="31" fill="#ff00ff" text-anchor="start" font-weight="normal" font-style="normal" textLength="62.0" lengthAdjust="spacingAndGlyphs" >N22</text>
<text x="797.0" y="512.0" font-family='"Liberation Sans", sans-serif' font-size="31" fill="#ff00ff" text-anchor="start" font-weight="normal" font-style="italic" textLength="33.0" lengthAdjust="spacingAndGlyphs" >12</text>
<text x="1406.0" y="540.0" font-family='"Liberation Sans", sans-serif' font-size="31" fill="#ff00ff" text-anchor="start" font-weight="normal" font-style="normal" textLength="42.0" lengthAdjust="spacingAndGlyphs" >N5</text>
<text x="1372.0" y="555.0" font-family='"Liberation Sans", sans-serif' font-size="31" fill="#ff00ff" text-anchor="start" font-weight="normal" font-style="italic" >5</text>
<text x="1256.0" y="626.0" font-family='"Liberation Sans", sans-serif' font-size="31" fill="#ff00ff" text-anchor="start" font-weight="normal" font-style="normal" textLength="40.0" lengthAdjust="spacingAndGlyphs" >N6</text>
<text x="1212.0" y="650.0" font-family='"Liberation Sans", sans-serif' font-size="31" fill="#ff00ff" text-anchor="start" font-weight="normal" font-style="italic" >6</text>
<text x="1656.0" y="757.0" font-family='"Liberation Sans", sans-serif' font-size="31" fill="#ff00ff" text-anchor="start" font-weight="normal" font-style="normal" textLength="57.0" lengthAdjust="spacingAndGlyphs" >N10</text>
<text x="1594.0" y="772.0" font-family='"Liberation Sans", sans-serif' font-size="31" fill="#ff00ff" text-anchor="start" font-weight="normal" font-style="italic" textLength="42.0" lengthAdjust="spacingAndGlyphs" >27</text>
<text x="2055.0" y="890.0" font-family='"Liberation Sans", sans-serif' font-size="31" fill="#ff00ff" text-anchor="start" font-weight="normal" font-style="normal" textLength="59.0" lengthAdjust="spacingAndGlyphs" >N13</text>
<text x="1990.0" y="903.0" font-family='"Liberation Sans", sans-serif' font-size="31" fill="#ff00ff" text-anchor="start" font-weight="normal" font-style="italic" textLength="45.0" lengthAdjust="spacingAndGlyphs" >24</text>
<text x="2456.0" y="1022.0" font-family='"Liberation Sans", sans-serif' font-size="31" fill="#ff00ff" text-anchor="start" font-weight="normal" font-style="normal" textLength="58.0" lengthAdjust="spacingAndGlyphs" >N16</text>
<text x="2390.0" y="1038.0" font-family='"Liberation Sans", sans-serif' font-size="31" fill="#ff00ff" text-anchor="start" font-weight="normal" font-style="italic" textLength="47.0" lengthAdjust="spacingAndGlyphs" >27</text>
<text x="629.0" y="731.0" font-family='"Liberation Sans", sans-serif' font-size="31" fill="#ff00ff" text-anchor="start" font-weight="normal" font-style="normal" textLength="38.0" lengthAdjust="spacingAndGlyphs" >25</text>
<text x="630.0" y="1187.0" font-family='"Liberation Sans", sans-serif' font-size="31" fill="#ff00ff" text-anchor="start" font-weight="normal" font-style="normal" textLength="37.0" lengthAdjust="spacingAndGlyphs" >24</text>
<text x="1031.0" y="862.0" font-family='"Liberation Sans", sans-serif' font-size="31" fill="#ff00ff" text-anchor="start" font-weight="normal" font-style="normal" textLength="33.0" lengthAdjust="spacingAndGlyphs" >19</text>
<text x="1030.0" y="1316.0" font-family='"Liberation Sans", sans-serif' font-size="31" fill="#ff00ff" text-anchor="start" font-weight="normal" font-style="normal" textLength="34.0" lengthAdjust="spacingAndGlyphs" >18</text>
<text x="1432.0" y="995.0" font-family='"Liberation Sans", sans-serif' font-size="31" fill="#ff00ff" text-anchor="start" font-weight="normal" font-style="normal" >3</text>
<text x="1431.0" y="1448.0" font-family='"Liberation Sans", sans-serif' font-size="31" fill="#ff00ff" text-anchor="start" font-weight="normal" font-style="normal" >2</text>
<text x="388.0" y="836.0" font-family='"Liberation Sans", sans-serif' font-size="31" fill="#ff00ff" text-anchor="start" font-weight="normal" font-style="italic" textLength="35.0" lengthAdjust="spacingAndGlyphs" >36</text>
<text x="790.0" y="955.0" font-family='"Liberation Sans", sans-serif' font-size="31" fill="#ff00ff" text-anchor="start" font-weight="normal" font-style="italic" textLength="35.0" lengthAdjust="spacingAndGlyphs" >36</text>
<text x="1188.0" y="1090.0" font-family='"Liberation Sans", sans-serif' font-size="31" fill="#ff00ff" text-anchor="start" font-weight="normal" font-style="italic" textLength="35.0" lengthAdjust="spacingAndGlyphs" >35</text>
<text x="498.0" y="815.0" font-family='"Liberation Sans", sans-serif' font-size="26" fill="#ff00ff" text-anchor="start" font-weight="normal" font-style="italic" >3</text>
<text x="898.0" y="935.0" font-family='"Liberation Sans", sans-serif' font-size="26" fill="#ff00ff" text-anchor="start" font-weight="normal" font-style="italic" >J</text>
<text x="396.0" y="1282.0" font-family='"Liberation Sans", sans-serif' font-size="24" fill="#ff00ff" text-anchor="start" font-weight="normal" font-style="italic" textLength="32.0" lengthAdjust="spacingAndGlyphs" >13</text>
<text x="500.0" y="1271.0" font-family='"Liberation Sans", sans-serif' font-size="24" fill="#ff00ff" text-anchor="start" font-weight="normal" font-style="italic" >3</text>
<text x="814.0" y="1417.0" font-family='"Liberation Sans", sans-serif' font-size="24" fill="#ff00ff" text-anchor="start" font-weight="normal" font-style="italic" >7</text>
<text x="897.0" y="1401.0" font-family='"Liberation Sans", sans-serif' font-size="24" fill="#ff00ff" text-anchor="start" font-weight="normal" font-style="italic" >/</text>
<text x="1215.0" y="1548.0" font-family='"Liberation Sans", sans-serif' font-size="24" fill="#ff00ff" text-anchor="start" font-weight="normal" font-style="italic" >1</text>
<line x1="550.4" y1="569.8" x2="660.4" y2="606.8" stroke="#0000ff" stroke-width="2.5" />
<line x1="594.9" y1="559.3" x2="660.4" y2="606.8" stroke="#0000ff" stroke-width="2.5" />
<line x1="579.4" y1="604.8" x2="660.4" y2="606.8" stroke="#0000ff" stroke-width="2.5" />
<line x1="551.2" y1="1024.7" x2="661.2" y2="1061.7" stroke="#0000ff" stroke-width="2.5" />
<line x1="595.7" y1="1014.2" x2="661.2" y2="1061.7" stroke="#0000ff" stroke-width="2.5" />
<line x1="580.2" y1="1059.7" x2="661.2" y2="1061.7" stroke="#0000ff" stroke-width="2.5" />
<line x1="952.2" y1="699.5" x2="1062.2" y2="736.5" stroke="#0000ff" stroke-width="2.5" />
<line x1="996.7" y1="689.0" x2="1062.2" y2="736.5" stroke="#0000ff" stroke-width="2.5" />
<line x1="981.2" y1="734.5" x2="1062.2" y2="736.5" stroke="#0000ff" stroke-width="2.5" />
<line x1="952.3" y1="1155.9" x2="1062.3" y2="1192.9" stroke="#0000ff" stroke-width="2.5" />
<line x1="996.8" y1="1145.4" x2="1062.3" y2="1192.9" stroke="#0000ff" stroke-width="2.5" />
<line x1="981.3" y1="1190.9" x2="1062.3" y2="1192.9" stroke="#0000ff" stroke-width="2.5" />
<line x1="1352.9" y1="1287.0" x2="1462.9" y2="1324.0" stroke="#0000ff" stroke-width="2.5" />
<line x1="1397.4" y1="1276.5" x2="1462.9" y2="1324.0" stroke="#0000ff" stroke-width="2.5" />
<line x1="1381.9" y1="1322.0" x2="1462.9" y2="1324.0" stroke="#0000ff" stroke-width="2.5" />
<line x1="1312.8" y1="820.8" x2="1462.7" y2="869.4" stroke="#0000ff" stroke-width="2.5" />
<line x1="1396.8" y1="823.5" x2="1462.7" y2="869.4" stroke="#0000ff" stroke-width="2.5" />
<line x1="1380.6" y1="867.5" x2="1462.7" y2="869.4" stroke="#0000ff" stroke-width="2.5" />
<text transform="translate(1336,826) rotate(-28)" font-family='"Liberation Sans", sans-serif' font-size="26" font-style="italic" fill="#111">c2</text>
<text x="1309.0" y="822.0" font-family='"Liberation Sans", sans-serif' font-size="22" fill="#ff00ff" text-anchor="start" font-weight="normal" font-style="italic" >2</text>
<line x1="511.7" y1="385.5" x2="494.7" y2="445.0" stroke="#00ee00" stroke-width="2.2" />
<line x1="511.7" y1="385.5" x2="528.7" y2="445.0" stroke="#00ee00" stroke-width="2.2" />
<line x1="511.7" y1="385.5" x2="511.7" y2="445.0" stroke="#00ee00" stroke-width="2.2" />
<line x1="912.4" y1="518.2" x2="895.4" y2="577.8" stroke="#00ee00" stroke-width="2.2" />
<line x1="912.4" y1="518.2" x2="929.4" y2="577.8" stroke="#00ee00" stroke-width="2.2" />
<line x1="912.4" y1="518.2" x2="912.4" y2="577.8" stroke="#00ee00" stroke-width="2.2" />
<line x1="1312.8" y1="650.0" x2="1288.5" y2="735.7" stroke="#00ee00" stroke-width="2.2" />
<line x1="1312.8" y1="650.0" x2="1337.1" y2="735.7" stroke="#00ee00" stroke-width="2.2" />
<line x1="1312.8" y1="650.0" x2="1312.8" y2="820.8" stroke="#00ee00" stroke-width="2.2" />
<line x1="1312.8" y1="820.8" x2="1427.0" y2="755.6" stroke="#ff2020" stroke-width="2" />
<line x1="1359.0" y1="767.0" x2="1427.0" y2="755.6" stroke="#ff2020" stroke-width="2" />
<line x1="1406.0" y1="782.0" x2="1427.0" y2="755.6" stroke="#ff2020" stroke-width="2" />
<line x1="1637.9" y1="916.0" x2="1619.8" y2="976.0" stroke="#ff2020" stroke-width="2" />
<line x1="1637.9" y1="916.0" x2="1655.4" y2="977.4" stroke="#ff2020" stroke-width="2" />
<polyline points="435.4,760.0 441.4,763.9 429.4,771.6 441.4,779.4 429.4,787.1 441.4,794.9 429.4,802.6 441.4,810.4 429.4,818.1 435.4,822.0" fill="none" stroke="#1a1aa0" stroke-width="2" />
<polyline points="836.0,963.0 839.0,966.2 833.0,972.6 839.0,979.0 833.0,985.4 839.0,991.8 833.0,998.2 839.0,1004.6 833.0,1011.0 839.0,1017.4 833.0,1023.8 836.0,1027.0" fill="none" stroke="#1a1aa0" stroke-width="2" />
<polyline points="1236.7,1023.0 1242.7,1026.8 1230.7,1034.4 1242.7,1042.1 1230.7,1049.7 1242.7,1057.3 1230.7,1064.9 1242.7,1072.6 1230.7,1080.2 1236.7,1084.0" fill="none" stroke="#1a1aa0" stroke-width="2" />
<polyline points="1236.7,1094.0 1239.7,1097.2 1233.7,1103.8 1239.7,1110.2 1233.7,1116.8 1239.7,1123.2 1233.7,1129.8 1239.7,1136.2 1233.7,1142.8 1239.7,1149.2 1233.7,1155.8 1236.7,1159.0" fill="none" stroke="#1a1aa0" stroke-width="2" />
<polygon points="1550.7,1089.5 1559.7,1078.5 1563.7,1088.5" fill="#1010f0" stroke="none" stroke-width="0" />
<polygon points="1550.7,1544.5 1559.7,1533.5 1563.7,1543.5" fill="#1010f0" stroke="none" stroke-width="0" />
<polygon points="1949.7,1219.6 1958.7,1208.6 1962.7,1218.6" fill="#1010f0" stroke="none" stroke-width="0" />
<polygon points="1949.7,1675.4 1958.7,1664.4 1962.7,1674.4" fill="#1010f0" stroke="none" stroke-width="0" />
<polygon points="2351.0,1352.0 2360.0,1341.0 2364.0,1351.0" fill="#1010f0" stroke="none" stroke-width="0" />
<polygon points="2351.0,1808.0 2360.0,1797.0 2364.0,1807.0" fill="#1010f0" stroke="none" stroke-width="0" />
<text x="2099.0" y="1340.0" font-family='"Liberation Sans", sans-serif' font-size="20" fill="#ff00ff" text-anchor="start" font-weight="normal" font-style="italic" >2</text>
<text x="2503.0" y="1472.0" font-family='"Liberation Sans", sans-serif' font-size="18" fill="#ff00ff" text-anchor="start" font-weight="normal" font-style="normal" >⊃</text>
<text x="2101.0" y="1802.0" font-family='"Liberation Sans", sans-serif' font-size="18" fill="#ff00ff" text-anchor="start" font-weight="normal" font-style="normal" >+</text>
<text x="2504.0" y="1928.0" font-family='"Liberation Sans", sans-serif' font-size="18" fill="#ff00ff" text-anchor="start" font-weight="normal" font-style="normal" >+</text>
<polygon points="1523.0,1003.0 1556.0,1003.0 1540.0,1014.0" fill="none" stroke="none" stroke-width="0" />
<polyline points="1523.0,1003.0 1556.0,1003.0 1540.0,1014.0 1523.0,1003.0" fill="none" stroke="#00ee00" stroke-width="2.5" />
<line x1="1598.0" y1="1027.0" x2="1627.0" y2="1037.0" stroke="#00ee00" stroke-width="2.5" />
<path d="M1604 1018 q8 -10 14 -2 q6 8 -4 12 M1606 1040 q4 -8 10 -4" fill="none" stroke="#2020c0" stroke-width="2"/>
<polyline points="1449.0,1590.3 1520.5,1551.3 1520.5,1666.7 1449.0,1705.7 1449.0,1590.3" fill="none" stroke="#1530c8" stroke-width="2" />
<polyline points="1520.5,1609.0 1510.0,1655.5 1484.8,1686.2 1459.5,1683.1 1449.0,1648.0 1459.5,1601.5 1484.8,1570.8 1510.0,1573.9 1520.5,1609.0" fill="none" stroke="#1530c8" stroke-width="2" />
<polyline points="1473.4,1668.3 1574.1,1700.9 1574.1,1814.3 1473.4,1782.0 1473.4,1668.3" fill="none" stroke="#1530c8" stroke-width="2" />
<polyline points="1574.1,1757.6 1559.4,1793.0 1523.8,1798.2 1488.1,1770.0 1473.4,1725.0 1488.1,1689.6 1523.8,1684.4 1559.4,1712.6 1574.1,1757.6" fill="none" stroke="#1530c8" stroke-width="2" />
<polyline points="1549.8,1851.9 1625.8,1809.7 1725.1,1842.1 1648.8,1886.0 1549.8,1851.9" fill="none" stroke="#1530c8" stroke-width="2" />
<polyline points="1675.4,1825.9 1699.3,1844.1 1686.9,1864.1 1645.6,1874.0 1599.4,1868.1 1575.6,1849.9 1587.9,1830.0 1629.3,1820.0 1675.4,1825.9" fill="none" stroke="#1530c8" stroke-width="2" />
<line x1="1637.4" y1="1713.8" x2="1637.4" y2="1847.0" stroke="#1530c8" stroke-width="2" />
<line x1="1488.1" y1="1627.8" x2="1519.1" y2="1639.3" stroke="#1530c8" stroke-width="2" />
<line x1="1523.7" y1="1741.3" x2="1559.5" y2="1720.3" stroke="#1530c8" stroke-width="2" />
<polyline points="1849.2,1722.0 1920.7,1683.0 1920.7,1798.4 1849.2,1837.4 1849.2,1722.0" fill="none" stroke="#1530c8" stroke-width="2" />
<polyline points="1920.7,1740.7 1910.2,1787.2 1885.0,1817.9 1859.7,1814.8 1849.2,1779.7 1859.7,1733.2 1885.0,1702.5 1910.2,1705.6 1920.7,1740.7" fill="none" stroke="#1530c8" stroke-width="2" />
<polyline points="1873.6,1800.0 1974.3,1832.6 1974.3,1946.0 1873.6,1913.7 1873.6,1800.0" fill="none" stroke="#1530c8" stroke-width="2" />
<polyline points="1974.3,1889.3 1959.6,1924.7 1923.9,1929.8 1888.3,1901.7 1873.6,1856.7 1888.3,1821.3 1923.9,1816.2 1959.6,1844.3 1974.3,1889.3" fill="none" stroke="#1530c8" stroke-width="2" />
<polyline points="1950.0,1983.6 2026.0,1941.4 2125.3,1973.8 2049.0,2017.7 1950.0,1983.6" fill="none" stroke="#1530c8" stroke-width="2" />
<polyline points="2075.7,1957.6 2099.5,1975.8 2087.2,1995.8 2045.8,2005.7 1999.7,1999.8 1975.8,1981.6 1988.2,1961.6 2029.5,1951.7 2075.7,1957.6" fill="none" stroke="#1530c8" stroke-width="2" />
<line x1="2037.6" y1="1845.5" x2="2037.6" y2="1978.7" stroke="#1530c8" stroke-width="2" />
<line x1="1888.3" y1="1759.5" x2="1919.3" y2="1771.0" stroke="#1530c8" stroke-width="2" />
<line x1="1923.9" y1="1873.0" x2="1959.7" y2="1852.0" stroke="#1530c8" stroke-width="2" />
<polyline points="2249.2,1853.5 2320.7,1814.5 2320.7,1929.9 2249.2,1968.9 2249.2,1853.5" fill="none" stroke="#1530c8" stroke-width="2" />
<polyline points="2320.7,1872.2 2310.2,1918.7 2285.0,1949.4 2259.7,1946.3 2249.2,1911.2 2259.7,1864.7 2285.0,1834.0 2310.2,1837.1 2320.7,1872.2" fill="none" stroke="#1530c8" stroke-width="2" />
<polyline points="2273.6,1931.5 2374.3,1964.1 2374.3,2077.5 2273.6,2045.2 2273.6,1931.5" fill="none" stroke="#1530c8" stroke-width="2" />
<polyline points="2374.3,2020.8 2359.6,2056.2 2324.0,2061.3 2288.3,2033.2 2273.6,1988.2 2288.3,1952.8 2324.0,1947.7 2359.6,1975.8 2374.3,2020.8" fill="none" stroke="#1530c8" stroke-width="2" />
<polyline points="2350.0,2115.1 2426.0,2072.9 2525.3,2105.3 2449.0,2149.2 2350.0,2115.1" fill="none" stroke="#1530c8" stroke-width="2" />
<polyline points="2475.7,2089.1 2499.5,2107.3 2487.2,2127.2 2445.8,2137.2 2399.7,2131.3 2375.8,2113.1 2388.2,2093.2 2429.5,2083.2 2475.7,2089.1" fill="none" stroke="#1530c8" stroke-width="2" />
<line x1="2437.6" y1="1977.0" x2="2437.6" y2="2110.2" stroke="#1530c8" stroke-width="2" />
<line x1="2288.3" y1="1891.0" x2="2319.3" y2="1902.5" stroke="#1530c8" stroke-width="2" />
<line x1="2323.9" y1="2004.5" x2="2359.7" y2="1983.5" stroke="#1530c8" stroke-width="2" />
<polyline points="340.7,1232.8 380.2,1214.7 380.2,1274.6 340.7,1292.7 340.7,1232.8" fill="none" stroke="#1530c8" stroke-width="2" />
<polyline points="380.2,1244.6 374.4,1268.5 360.5,1283.6 346.5,1281.3 340.7,1262.7 346.5,1238.9 360.5,1223.7 374.4,1226.1 380.2,1244.6" fill="none" stroke="#1530c8" stroke-width="2" />
<polyline points="353.8,1275.0 403.5,1298.6 403.5,1346.8 353.8,1330.7 353.8,1275.0" fill="none" stroke="#1530c8" stroke-width="2" />
<polyline points="403.5,1322.7 396.2,1338.9 378.6,1338.8 361.1,1322.2 353.8,1299.1 361.1,1282.9 378.6,1283.0 396.2,1299.6 403.5,1322.7" fill="none" stroke="#1530c8" stroke-width="2" />
<polyline points="392.8,1365.8 434.2,1344.7 479.5,1360.0 440.0,1381.8 392.8,1365.8" fill="none" stroke="#1530c8" stroke-width="2" />
<polyline points="456.9,1352.4 467.5,1361.1 459.8,1370.9 438.2,1376.0 415.4,1373.5 404.8,1364.7 412.5,1354.9 434.1,1349.8 456.9,1352.4" fill="none" stroke="#1530c8" stroke-width="2" />
<line x1="434.8" y1="1277.0" x2="434.8" y2="1364.0" stroke="#1530c8" stroke-width="2" />
<polyline points="468.7,1321.0 510.2,1301.5 556.3,1317.5 516.0,1339.5 468.7,1321.0" fill="none" stroke="#1530c8" stroke-width="2" />
<polyline points="533.2,1309.5 543.9,1318.9 536.1,1328.5 514.6,1332.7 491.8,1329.0 481.1,1319.6 488.9,1310.0 510.4,1305.8 533.2,1309.5" fill="none" stroke="#1530c8" stroke-width="2" />
<line x1="510.8" y1="1269.0" x2="510.8" y2="1319.0" stroke="#1530c8" stroke-width="2" />
<polyline points="545.2,1279.0 584.7,1257.7 631.4,1273.7 592.0,1295.6 545.2,1279.0" fill="none" stroke="#1530c8" stroke-width="2" />
<polyline points="608.1,1265.7 618.8,1274.7 611.7,1284.6 590.9,1289.7 568.6,1287.0 557.8,1278.0 564.9,1268.0 585.7,1263.0 608.1,1265.7" fill="none" stroke="#1530c8" stroke-width="2" />
<line x1="588.8" y1="1229.0" x2="588.8" y2="1276.0" stroke="#1530c8" stroke-width="2" />
<line x1="370.6" y1="1254.0" x2="405.6" y2="1267.0" stroke="#1530c8" stroke-width="2" />
<line x1="385.6" y1="1312.0" x2="410.6" y2="1297.0" stroke="#1530c8" stroke-width="2" />
<polyline points="740.9,1368.8 780.4,1350.7 780.4,1410.6 740.9,1428.7 740.9,1368.8" fill="none" stroke="#1530c8" stroke-width="2" />
<polyline points="780.4,1380.6 774.6,1404.5 760.6,1419.6 746.7,1417.3 740.9,1398.7 746.7,1374.9 760.6,1359.7 774.6,1362.1 780.4,1380.6" fill="none" stroke="#1530c8" stroke-width="2" />
<polyline points="754.0,1411.0 803.7,1434.6 803.7,1482.8 754.0,1466.7 754.0,1411.0" fill="none" stroke="#1530c8" stroke-width="2" />
<polyline points="803.7,1458.7 796.4,1474.9 778.8,1474.8 761.3,1458.2 754.0,1435.1 761.3,1418.9 778.8,1419.0 796.4,1435.6 803.7,1458.7" fill="none" stroke="#1530c8" stroke-width="2" />
<polyline points="793.0,1501.8 834.4,1480.7 879.7,1496.0 840.2,1517.8 793.0,1501.8" fill="none" stroke="#1530c8" stroke-width="2" />
<polyline points="857.0,1488.4 867.7,1497.1 859.9,1506.9 838.4,1512.0 815.6,1509.5 805.0,1500.7 812.7,1490.9 834.3,1485.8 857.0,1488.4" fill="none" stroke="#1530c8" stroke-width="2" />
<line x1="835.0" y1="1413.0" x2="835.0" y2="1500.0" stroke="#1530c8" stroke-width="2" />
<polyline points="868.9,1457.0 910.4,1437.5 956.5,1453.5 916.2,1475.5 868.9,1457.0" fill="none" stroke="#1530c8" stroke-width="2" />
<polyline points="933.5,1445.5 944.1,1454.9 936.4,1464.5 914.8,1468.7 892.0,1465.0 881.3,1455.6 889.1,1446.0 910.6,1441.8 933.5,1445.5" fill="none" stroke="#1530c8" stroke-width="2" />
<line x1="911.0" y1="1405.0" x2="911.0" y2="1455.0" stroke="#1530c8" stroke-width="2" />
<polyline points="945.4,1415.0 984.9,1393.7 1031.6,1409.7 992.2,1431.6 945.4,1415.0" fill="none" stroke="#1530c8" stroke-width="2" />
<polyline points="1008.2,1401.7 1019.0,1410.7 1011.9,1420.6 991.1,1425.7 968.8,1423.0 958.0,1414.0 965.1,1404.0 985.9,1399.0 1008.2,1401.7" fill="none" stroke="#1530c8" stroke-width="2" />
<line x1="989.0" y1="1365.0" x2="989.0" y2="1412.0" stroke="#1530c8" stroke-width="2" />
<line x1="770.8" y1="1390.0" x2="805.8" y2="1403.0" stroke="#1530c8" stroke-width="2" />
<line x1="785.8" y1="1448.0" x2="810.8" y2="1433.0" stroke="#1530c8" stroke-width="2" />
<polyline points="1141.9,1502.8 1181.4,1484.7 1181.4,1544.6 1141.9,1562.7 1141.9,1502.8" fill="none" stroke="#1530c8" stroke-width="2" />
<polyline points="1181.4,1514.6 1175.6,1538.5 1161.6,1553.6 1147.7,1551.3 1141.9,1532.7 1147.7,1508.9 1161.6,1493.7 1175.6,1496.1 1181.4,1514.6" fill="none" stroke="#1530c8" stroke-width="2" />
<polyline points="1155.0,1545.0 1204.7,1568.6 1204.7,1616.8 1155.0,1600.7 1155.0,1545.0" fill="none" stroke="#1530c8" stroke-width="2" />
<polyline points="1204.7,1592.7 1197.4,1608.9 1179.8,1608.8 1162.3,1592.2 1155.0,1569.1 1162.3,1552.9 1179.8,1553.0 1197.4,1569.6 1204.7,1592.7" fill="none" stroke="#1530c8" stroke-width="2" />
<polyline points="1194.0,1635.8 1235.4,1614.7 1280.7,1630.0 1241.2,1651.8 1194.0,1635.8" fill="none" stroke="#1530c8" stroke-width="2" />
<polyline points="1258.0,1622.4 1268.7,1631.1 1260.9,1640.9 1239.4,1646.0 1216.7,1643.5 1206.0,1634.7 1213.7,1624.9 1235.3,1619.8 1258.0,1622.4" fill="none" stroke="#1530c8" stroke-width="2" />
<line x1="1236.0" y1="1547.0" x2="1236.0" y2="1634.0" stroke="#1530c8" stroke-width="2" />
<polyline points="1269.9,1591.0 1311.4,1571.5 1357.5,1587.5 1317.2,1609.5 1269.9,1591.0" fill="none" stroke="#1530c8" stroke-width="2" />
<polyline points="1334.4,1579.5 1345.1,1588.9 1337.3,1598.5 1315.8,1602.7 1292.9,1599.0 1282.3,1589.6 1290.0,1580.0 1311.6,1575.8 1334.4,1579.5" fill="none" stroke="#1530c8" stroke-width="2" />
<line x1="1312.0" y1="1539.0" x2="1312.0" y2="1589.0" stroke="#1530c8" stroke-width="2" />
<polyline points="1346.4,1549.0 1385.9,1527.7 1432.6,1543.7 1393.2,1565.6 1346.4,1549.0" fill="none" stroke="#1530c8" stroke-width="2" />
<polyline points="1409.2,1535.7 1420.0,1544.7 1412.9,1554.6 1392.1,1559.7 1369.8,1557.0 1359.0,1548.0 1366.1,1538.0 1386.9,1533.0 1409.2,1535.7" fill="none" stroke="#1530c8" stroke-width="2" />
<line x1="1390.0" y1="1499.0" x2="1390.0" y2="1546.0" stroke="#1530c8" stroke-width="2" />
<line x1="1171.8" y1="1524.0" x2="1206.8" y2="1537.0" stroke="#1530c8" stroke-width="2" />
<line x1="1186.8" y1="1582.0" x2="1211.8" y2="1567.0" stroke="#1530c8" stroke-width="2" />
<polyline points="1236.7,1548.0 1270.0,1562.0 1305.0,1570.0 1310.0,1558.0" fill="none" stroke="#ff2020" stroke-width="2.5" />
<line x1="1310.0" y1="1582.0" x2="1360.0" y2="1574.0" stroke="#ff2020" stroke-width="4" />
<line x1="1333.0" y1="1568.0" x2="1333.0" y2="1588.0" stroke="#ff2020" stroke-width="4" />
<line x1="0.0" y1="1139.6" x2="354.0" y2="1257.0" stroke="#111" stroke-width="2" />
<line x1="185.9" y1="1062.4" x2="394.6" y2="1131.8" stroke="#111" stroke-width="2" />
<line x1="35.0" y1="1150.0" x2="185.9" y2="1062.4" stroke="#111" stroke-width="2" />
<line x1="19.3" y1="1106.0" x2="49.1" y2="1197.4" stroke="#111" stroke-width="2" />
<line x1="171.9" y1="1019.6" x2="201.7" y2="1109.7" stroke="#111" stroke-width="2" />
<line x1="107.0" y1="1038.5" x2="185.9" y2="1062.4" stroke="#999" stroke-width="1.5" />
<line x1="95.0" y1="1114.0" x2="185.9" y2="1062.4" stroke="#999" stroke-width="1.5" />
<text transform="translate(96,1107) rotate(-30)" font-family='"Liberation Sans", sans-serif' font-size="22" fill="#888">500</text>
<line x1="1703.3" y1="347.8" x2="1466.3" y2="736.1" stroke="#2dd0c8" stroke-width="7.5" />
<polygon points="1451.7,760.0 1453.9,723.8 1482.9,741.5" fill="#2dd0c8" stroke="none" stroke-width="0" />
<line x1="1810.3" y1="347.8" x2="1708.4" y2="892.9" stroke="#2dd0c8" stroke-width="7.5" />
<polygon points="1703.3,920.4 1692.5,885.8 1725.9,892.1" fill="#2dd0c8" stroke="none" stroke-width="0" />
<line x1="1317.6" y1="1750.0" x2="1317.6" y2="1666.4" stroke="#2dd0c8" stroke-width="8.5" />
<polygon points="1317.6,1640.4 1332.6,1670.4 1302.6,1670.4" fill="#2dd0c8" stroke="none" stroke-width="0" />
<line x1="1349.0" y1="1751.8" x2="1429.8" y2="1708.7" stroke="#2dd0c8" stroke-width="8.5" />
<polygon points="1452.7,1696.4 1433.8,1724.6 1418.7,1696.4" fill="#2dd0c8" stroke="none" stroke-width="0" />
<line x1="548.0" y1="2025.0" x2="548.0" y2="1380.0" stroke="#2dd0c8" stroke-width="9" />
<polygon points="548.0,1355.0 563.0,1384.0 533.0,1384.0" fill="#2dd0c8" stroke="none" stroke-width="0" />
<line x1="586.8" y1="2025.5" x2="725.9" y2="1480.2" stroke="#2dd0c8" stroke-width="8.5" />
<polygon points="732.3,1455.0 740.4,1488.0 709.4,1480.1" fill="#2dd0c8" stroke="none" stroke-width="0" />
<line x1="902.8" y1="2122.2" x2="1846.3" y2="1906.7" stroke="#2dd0c8" stroke-width="8.5" />
<polygon points="1875.5,1900.0 1846.1,1924.1 1838.6,1891.0" fill="#2dd0c8" stroke="none" stroke-width="0" />
<line x1="902.8" y1="2122.2" x2="2200.0" y2="2054.6" stroke="#2dd0c8" stroke-width="8.5" />
<polygon points="2230.0,2053.0 2196.9,2071.7 2195.2,2037.8" fill="#2dd0c8" stroke="none" stroke-width="0" />
<rect x="1703.0" y="18.8" width="631.7" height="326.8" fill="#fff" stroke="#2dd0c8" stroke-width="9.2"/>
<rect x="185.1" y="361.0" width="168.6" height="136.7" fill="#fff" stroke="#2dd0c8" stroke-width="10.0"/>
<rect x="2166.0" y="760.0" width="168.9" height="136.9" fill="#fff" stroke="#2dd0c8" stroke-width="10.0"/>
<rect x="716.0" y="1750.8" width="632.6" height="203.9" fill="#fff" stroke="#2dd0c8" stroke-width="9.2"/>
<rect x="269.9" y="2027.0" width="632.1" height="203.6" fill="#fff" stroke="#2dd0c8" stroke-width="9.5"/>
<text x="248.0" y="457.0" font-family='"Liberation Serif", serif' font-size="86" fill="#000" text-anchor="start" font-weight="normal" font-style="italic" textLength="39.0" lengthAdjust="spacingAndGlyphs" >k</text>
<text x="2229.0" y="857.0" font-family='"Liberation Serif", serif' font-size="86" fill="#000" text-anchor="start" font-weight="normal" font-style="italic" textLength="39.0" lengthAdjust="spacingAndGlyphs" >k</text>
<text x="1816.0" y="149.0" font-family='"Liberation Serif", serif' font-size="86" fill="#000" text-anchor="start" font-weight="normal" font-style="normal" textLength="34.0" lengthAdjust="spacingAndGlyphs" >1</text>
<rect x="1809" y="185.7" width="48" height="5.7" fill="#000"/>
<text x="1811.0" y="268.0" font-family='"Liberation Serif", serif' font-size="86" fill="#000" text-anchor="start" font-weight="normal" font-style="italic" textLength="39.0" lengthAdjust="spacingAndGlyphs" >k</text>
<rect x="1885.6" y="177" width="51" height="7" fill="#000"/>
<rect x="1885.6" y="192" width="51" height="7" fill="#000"/>
<text x="1989.0" y="149.0" font-family='"Liberation Serif", serif' font-size="86" fill="#000" text-anchor="start" font-weight="normal" font-style="normal" textLength="34.0" lengthAdjust="spacingAndGlyphs" >1</text>
<rect x="1965" y="185.7" width="82" height="5.7" fill="#000"/>
<text x="1966.0" y="268.0" font-family='"Liberation Serif", serif' font-size="86" fill="#000" text-anchor="start" font-weight="normal" font-style="italic" textLength="39.0" lengthAdjust="spacingAndGlyphs" >k</text>
<text x="2012.0" y="284.0" font-family='"Liberation Serif", serif' font-size="58" fill="#000" text-anchor="start" font-weight="normal" font-style="normal" textLength="26.0" lengthAdjust="spacingAndGlyphs" >1</text>
<rect x="2070.8" y="185.3" width="50.2" height="6" fill="#000"/>
<rect x="2093" y="161.6" width="6" height="53" fill="#000"/>
<text x="2169.0" y="149.0" font-family='"Liberation Serif", serif' font-size="86" fill="#000" text-anchor="start" font-weight="normal" font-style="normal" textLength="34.0" lengthAdjust="spacingAndGlyphs" >1</text>
<rect x="2145" y="185.7" width="84" height="5.7" fill="#000"/>
<text x="2146.0" y="268.0" font-family='"Liberation Serif", serif' font-size="86" fill="#000" text-anchor="start" font-weight="normal" font-style="italic" textLength="39.0" lengthAdjust="spacingAndGlyphs" >k</text>
<text x="2193.0" y="284.0" font-family='"Liberation Serif", serif' font-size="58" fill="#000" text-anchor="start" font-weight="normal" font-style="normal" textLength="28.0" lengthAdjust="spacingAndGlyphs" >2</text>
<text x="769.0" y="1882.0" font-family='"Liberation Serif", serif' font-size="86" fill="#000" text-anchor="start" font-weight="normal" font-style="italic" textLength="39.0" lengthAdjust="spacingAndGlyphs" >k</text>
<rect x="842.0" y="1848.0" width="51" height="5.5" fill="#000"/>
<rect x="842.0" y="1863.0" width="51" height="5.5" fill="#000"/>
<text x="926.0" y="1882.0" font-family='"Liberation Serif", serif' font-size="86" fill="#000" text-anchor="start" font-weight="normal" font-style="normal" textLength="130.0" lengthAdjust="spacingAndGlyphs" >250</text>
<text x="1081.0" y="1882.0" font-family='"Liberation Serif", serif' font-size="86" fill="#000" text-anchor="start" font-weight="normal" font-style="italic" textLength="100.0" lengthAdjust="spacingAndGlyphs" >kN</text>
<polygon points="1216.0,1823.0 1223.5,1823.0 1197.5,1898.5 1190.0,1898.5" fill="#000" stroke="none" stroke-width="0" />
<text x="1229.6" y="1882.0" font-family='"Liberation Serif", serif' font-size="86" fill="#000" text-anchor="start" font-weight="normal" font-style="italic" textLength="64.0" lengthAdjust="spacingAndGlyphs" >m</text>
<text x="323.0" y="2156.6" font-family='"Liberation Serif", serif' font-size="86" fill="#000" text-anchor="start" font-weight="normal" font-style="italic" textLength="39.0" lengthAdjust="spacingAndGlyphs" >k</text>
<rect x="396.0" y="2122.6" width="51" height="5.5" fill="#000"/>
<rect x="396.0" y="2137.6" width="51" height="5.5" fill="#000"/>
<text x="480.0" y="2156.6" font-family='"Liberation Serif", serif' font-size="86" fill="#000" text-anchor="start" font-weight="normal" font-style="normal" textLength="130.0" lengthAdjust="spacingAndGlyphs" >500</text>
<text x="635.0" y="2156.6" font-family='"Liberation Serif", serif' font-size="86" fill="#000" text-anchor="start" font-weight="normal" font-style="italic" textLength="100.0" lengthAdjust="spacingAndGlyphs" >kN</text>
<polygon points="770.0,2097.6 777.5,2097.6 751.5,2173.1 744.0,2173.1" fill="#000" stroke="none" stroke-width="0" />
<text x="783.6" y="2156.6" font-family='"Liberation Serif", serif' font-size="86" fill="#000" text-anchor="start" font-weight="normal" font-style="italic" textLength="64.0" lengthAdjust="spacingAndGlyphs" >m</text>
<rect x="2687" y="26" width="209" height="981" fill="#fff" stroke="#000" stroke-width="2"/>
<rect x="2789" y="145.0" width="33" height="48.7" fill="#cc0000" stroke="#000" stroke-width="2"/>
<rect x="2789" y="193.7" width="33" height="48.7" fill="#f03800" stroke="#000" stroke-width="2"/>
<rect x="2789" y="242.3" width="33" height="48.7" fill="#f07800" stroke="#000" stroke-width="2"/>
<rect x="2789" y="291.0" width="33" height="48.7" fill="#f5a623" stroke="#000" stroke-width="2"/>
<rect x="2789" y="339.6" width="33" height="48.7" fill="#f5c842" stroke="#000" stroke-width="2"/>
<rect x="2789" y="388.3" width="33" height="48.7" fill="#f8e85c" stroke="#000" stroke-width="2"/>
<rect x="2789" y="437.0" width="33" height="48.7" fill="#dcf064" stroke="#000" stroke-width="2"/>
<rect x="2789" y="485.6" width="33" height="48.7" fill="#98e146" stroke="#000" stroke-width="2"/>
<rect x="2789" y="534.3" width="33" height="48.7" fill="#36cc26" stroke="#000" stroke-width="2"/>
<rect x="2789" y="582.9" width="33" height="48.7" fill="#00d870" stroke="#000" stroke-width="2"/>
<rect x="2789" y="631.6" width="33" height="48.7" fill="#00e8b4" stroke="#000" stroke-width="2"/>
<rect x="2789" y="680.3" width="33" height="48.7" fill="#00f5e6" stroke="#000" stroke-width="2"/>
<rect x="2789" y="728.9" width="33" height="48.7" fill="#00c8f0" stroke="#000" stroke-width="2"/>
<rect x="2789" y="777.6" width="33" height="48.7" fill="#0090e0" stroke="#000" stroke-width="2"/>
<rect x="2789" y="826.2" width="33" height="48.7" fill="#0040d8" stroke="#000" stroke-width="2"/>
<rect x="2789" y="874.9" width="33" height="48.7" fill="#3b00c2" stroke="#000" stroke-width="2"/>
<text x="2770.0" y="153.6" font-family='"Liberation Sans", sans-serif' font-size="26" fill="#000" text-anchor="end" font-weight="normal" font-style="normal" textLength="62.5" lengthAdjust="spacingAndGlyphs" >500.0</text>
<text x="2770.0" y="202.3" font-family='"Liberation Sans", sans-serif' font-size="26" fill="#000" text-anchor="end" font-weight="normal" font-style="normal" textLength="62.5" lengthAdjust="spacingAndGlyphs" >450.0</text>
<text x="2770.0" y="250.9" font-family='"Liberation Sans", sans-serif' font-size="26" fill="#000" text-anchor="end" font-weight="normal" font-style="normal" textLength="62.5" lengthAdjust="spacingAndGlyphs" >420.0</text>
<text x="2770.0" y="299.6" font-family='"Liberation Sans", sans-serif' font-size="26" fill="#000" text-anchor="end" font-weight="normal" font-style="normal" textLength="62.5" lengthAdjust="spacingAndGlyphs" >390.0</text>
<text x="2770.0" y="348.2" font-family='"Liberation Sans", sans-serif' font-size="26" fill="#000" text-anchor="end" font-weight="normal" font-style="normal" textLength="62.5" lengthAdjust="spacingAndGlyphs" >360.0</text>
<text x="2770.0" y="396.9" font-family='"Liberation Sans", sans-serif' font-size="26" fill="#000" text-anchor="end" font-weight="normal" font-style="normal" textLength="62.5" lengthAdjust="spacingAndGlyphs" >330.0</text>
<text x="2770.0" y="445.6" font-family='"Liberation Sans", sans-serif' font-size="26" fill="#000" text-anchor="end" font-weight="normal" font-style="normal" textLength="62.5" lengthAdjust="spacingAndGlyphs" >300.0</text>
<text x="2770.0" y="494.2" font-family='"Liberation Sans", sans-serif' font-size="26" fill="#000" text-anchor="end" font-weight="normal" font-style="normal" textLength="62.5" lengthAdjust="spacingAndGlyphs" >270.0</text>
<text x="2770.0" y="542.9" font-family='"Liberation Sans", sans-serif' font-size="26" fill="#000" text-anchor="end" font-weight="normal" font-style="normal" textLength="62.5" lengthAdjust="spacingAndGlyphs" >240.0</text>
<text x="2770.0" y="591.5" font-family='"Liberation Sans", sans-serif' font-size="26" fill="#000" text-anchor="end" font-weight="normal" font-style="normal" textLength="62.5" lengthAdjust="spacingAndGlyphs" >210.0</text>
<text x="2770.0" y="640.2" font-family='"Liberation Sans", sans-serif' font-size="26" fill="#000" text-anchor="end" font-weight="normal" font-style="normal" textLength="62.5" lengthAdjust="spacingAndGlyphs" >180.0</text>
<text x="2770.0" y="688.9" font-family='"Liberation Sans", sans-serif' font-size="26" fill="#000" text-anchor="end" font-weight="normal" font-style="normal" textLength="62.5" lengthAdjust="spacingAndGlyphs" >150.0</text>
<text x="2770.0" y="737.5" font-family='"Liberation Sans", sans-serif' font-size="26" fill="#000" text-anchor="end" font-weight="normal" font-style="normal" textLength="62.5" lengthAdjust="spacingAndGlyphs" >120.0</text>
<text x="2770.0" y="786.2" font-family='"Liberation Sans", sans-serif' font-size="26" fill="#000" text-anchor="end" font-weight="normal" font-style="normal" textLength="49.0" lengthAdjust="spacingAndGlyphs" >90.0</text>
<text x="2770.0" y="834.8" font-family='"Liberation Sans", sans-serif' font-size="26" fill="#000" text-anchor="end" font-weight="normal" font-style="normal" textLength="49.0" lengthAdjust="spacingAndGlyphs" >60.0</text>
<text x="2770.0" y="883.5" font-family='"Liberation Sans", sans-serif' font-size="26" fill="#000" text-anchor="end" font-weight="normal" font-style="normal" textLength="49.0" lengthAdjust="spacingAndGlyphs" >30.0</text>
<text x="2770.0" y="932.2" font-family='"Liberation Sans", sans-serif' font-size="26" fill="#000" text-anchor="end" font-weight="normal" font-style="normal" textLength="36.0" lengthAdjust="spacingAndGlyphs" >0.0</text>
<text transform="translate(2876,213) rotate(-90)" font-family='"Liberation Sans", sans-serif' font-weight="bold" fill="#000"><tspan font-size="27">U</tspan><tspan font-size="16" textLength="41" lengthAdjust="spacingAndGlyphs">total</tspan><tspan x="83.6" font-size="26" textLength="82.5" lengthAdjust="spacingAndGlyphs">[mm]</tspan></text>
<rect x="93" y="952" width="75" height="1262" fill="#f1f0ef" fill-opacity="0.82"/>
<rect x="93" y="952" width="5" height="1262" fill="#c9c9c9"/>
<rect x="93" y="2210" width="75" height="4" fill="#cfcfcf"/>
<circle cx="134" cy="982" r="22" fill="none" stroke="#2b2f7e" stroke-width="3"/>
<line x1="125" y1="962" x2="125" y2="1002" stroke="#2b2f7e" stroke-width="2.5"/>
<line x1="114" y1="973" x2="154" y2="973" stroke="#2b2f7e" stroke-width="2.5"/>
<line x1="134" y1="962" x2="134" y2="1002" stroke="#2b2f7e" stroke-width="2.5"/>
<line x1="114" y1="982" x2="154" y2="982" stroke="#2b2f7e" stroke-width="2.5"/>
<line x1="143" y1="962" x2="143" y2="1002" stroke="#2b2f7e" stroke-width="2.5"/>
<line x1="114" y1="991" x2="154" y2="991" stroke="#2b2f7e" stroke-width="2.5"/>
<rect x="119" y="1039" width="10" height="38" fill="none" stroke="#c0283a" stroke-width="3.5"/>
<rect x="119" y="1111" width="10" height="38" fill="none" stroke="#c0283a" stroke-width="3.5"/>
<rect x="119" y="1185" width="10" height="38" fill="none" stroke="#c0283a" stroke-width="3.5"/>
<rect x="130" y="1056" width="24" height="6" fill="#2ec8c8"/>
<polygon points="154,1048 168,1059 154,1070" fill="#2ec8c8"/>
<rect x="128" y="1127" width="34" height="8" fill="#2ec8c8"/>
<rect x="137" y="1114" width="8" height="34" fill="#2ec8c8"/>
<rect x="128" y="1202" width="34" height="6" fill="#2b2f7e"/>
<rect x="138" y="1190" width="6" height="30" fill="#2b2f7e"/>
<rect x="134" y="1197" width="5" height="26" fill="#2ec8c8"/>
<rect x="111" y="1259" width="10" height="30" fill="none" stroke="#c0283a" stroke-width="3.5"/>
<rect x="124" y="1293" width="30" height="10" fill="none" stroke="#c0283a" stroke-width="3.5"/>
<path d="M129 1261 q22 -4 22 20" fill="none" stroke="#2ec8c8" stroke-width="5"/>
<rect x="114" y="1364" width="40" height="10" fill="none" stroke="#c0283a" stroke-width="3.5"/>
<line x1="119" y1="1340" x2="151" y2="1340" stroke="#9fe0e0" stroke-width="3"/>
<line x1="119" y1="1350" x2="151" y2="1350" stroke="#2ec8c8" stroke-width="3"/>
<polygon points="112,1431 132,1413 144,1425 126,1447" fill="#2b2f7e"/>
<line x1="136" y1="1421" x2="152" y2="1407" stroke="#2b2f7e" stroke-width="6" stroke-linecap="round"/>
<path d="M114 1524 v-24 l20 -10 l20 10 v24 M114 1504 h40" fill="none" stroke="#c0283a" stroke-width="4"/>
<path d="M114 1596 v-26 l20 -8 l20 8 v26" fill="none" stroke="#e8b8c0" stroke-width="3"/>
<rect x="120" y="1562" width="36" height="34" fill="none" stroke="#b8b8e0" stroke-width="2" stroke-dasharray="4 3"/>
<polygon points="130,1642 140,1634 156,1634 146,1642" fill="none" stroke="#2ec8c8" stroke-width="2.5"/>
<polygon points="130,1650 140,1642 156,1642 146,1650" fill="none" stroke="#2ec8c8" stroke-width="2.5"/>
<polygon points="130,1658 140,1650 156,1650 146,1658" fill="none" stroke="#2ec8c8" stroke-width="2.5"/>
<path d="M114 1670 v-12 a8 8 0 0 1 16 0 v12 M114 1662 h16" fill="none" stroke="#c0283a" stroke-width="3"/>
<path d="M126 1733 v-30 M126 1733 h26" stroke="#2ec8c8" stroke-width="3" fill="none"/>
<path d="M114 1751 v-12 a8 8 0 0 1 16 0 v12 M114 1743 h16" fill="none" stroke="#c0283a" stroke-width="3"/>
<rect x="115" y="1783" width="38" height="38" fill="none" stroke="#2b2f7e" stroke-width="2.5" stroke-dasharray="4 3"/>
<path d="M134 1782 v24 M124 1798 l10 10 l10 -10" stroke="#2ec8c8" stroke-width="4" fill="none"/>
<polygon points="114,1867 126,1857 154,1857 142,1867" fill="none" stroke="#2b2f7e" stroke-width="4"/>
<polygon points="114,1879 126,1869 154,1869 142,1879" fill="none" stroke="#2b2f7e" stroke-width="4"/>
<polygon points="114,1891 126,1881 154,1881 142,1891" fill="none" stroke="#2b2f7e" stroke-width="4"/>
<path d="M114 1931 h20 M124 1931 v30 M114 1961 h20 M140 1945 h10 v26 h-16" stroke="#2b2f7e" stroke-width="5" fill="none"/>
<path d="M128 2019 l8 8 l18 -18" stroke="#2ec8c8" stroke-width="5" fill="none"/>
<path d="M114 2049 v-12 a8 8 0 0 1 16 0 v12 M114 2041 h16" fill="none" stroke="#c0283a" stroke-width="3"/>
<rect x="114" y="2096" width="30" height="24" fill="none" stroke="#2ec8c8" stroke-width="3"/>
<path d="M136 2080 l16 16 M152 2080 l-16 16" stroke="#ff0000" stroke-width="5"/>
<path d="M116 2162 v28 h30" stroke="#2b2f7e" stroke-width="3" fill="none"/>
<text x="132.0" y="2188.0" font-family='"Liberation Sans", sans-serif' font-size="34" fill="#2ec8c8" text-anchor="start" font-weight="bold" font-style="italic" >i</text>
<polygon points="58.9,2244.3 203.7,2244.3 248.2,2351.0 205.3,2456.0 58.9,2456.0 14.3,2351.0" fill="#e4e4e2" stroke="#e0e0de" stroke-width="10" stroke-linejoin="round" transform="translate(2,3)"/>
<polygon points="58.9,2244.3 203.7,2244.3 248.2,2351.0 205.3,2456.0 58.9,2456.0 14.3,2351.0" fill="#f3f3f1" stroke="#f3f3f1" stroke-width="8" stroke-linejoin="round"/>
<line x1="132.0" y1="2244.0" x2="132.0" y2="2306.0" stroke="#e6e6e4" stroke-width="2" />
<line x1="132.0" y1="2396.0" x2="132.0" y2="2456.0" stroke="#e6e6e4" stroke-width="2" />
<line x1="36.0" y1="2298.0" x2="93.0" y2="2330.0" stroke="#e6e6e4" stroke-width="2" />
<line x1="171.0" y1="2372.0" x2="228.0" y2="2404.0" stroke="#e6e6e4" stroke-width="2" />
<line x1="36.0" y1="2404.0" x2="93.0" y2="2372.0" stroke="#e6e6e4" stroke-width="2" />
<line x1="171.0" y1="2330.0" x2="228.0" y2="2298.0" stroke="#e6e6e4" stroke-width="2" />
<circle cx="132" cy="2351" r="44" fill="#fbfbfa"/>
<circle cx="132" cy="2351" r="36" fill="#eeeeec" stroke="#dcdcda" stroke-width="2"/>
<path d="M71 2292 v-24 l22 -16 l24 12 v26" fill="none" stroke="#c84050" stroke-width="6"/><path d="M80 2292 v-14 a8 8 0 0 1 16 0 v14 M100 2296 v-16 a8 8 0 0 1 16 0 v12" fill="none" stroke="#c84050" stroke-width="4"/>
<polygon points="151,2278 176,2268 199,2278 176,2290" fill="#c8cce0"/><rect x="152" y="2278" width="9" height="16" fill="#a8acd0"/><rect x="172" y="2286" width="9" height="16" fill="#a8acd0"/><rect x="190" y="2278" width="9" height="14" fill="#a8acd0"/>
<circle cx="156" cy="2264" r="6" fill="#40d0d8"/>
<circle cx="170" cy="2256" r="6" fill="#40d0d8"/>
<circle cx="186" cy="2262" r="6" fill="#40d0d8"/>
<circle cx="180" cy="2276" r="6" fill="#40d0d8"/>
<path d="M30 2362 v-24 a10 10 0 0 1 20 0 v28 z" fill="#fff" stroke="#2a2f80" stroke-width="2.5"/>
<path d="M36 2336 a4 4 0 0 1 8 0" fill="none" stroke="#c84050" stroke-width="2"/>
<path d="M42 2362 v-24 a10 10 0 0 1 20 0 v28 z" fill="#fff" stroke="#2a2f80" stroke-width="2.5"/>
<path d="M48 2336 a4 4 0 0 1 8 0" fill="none" stroke="#c84050" stroke-width="2"/>
<path d="M54 2362 v-24 a10 10 0 0 1 20 0 v28 z" fill="#fff" stroke="#2a2f80" stroke-width="2.5"/>
<path d="M60 2336 a4 4 0 0 1 8 0" fill="none" stroke="#c84050" stroke-width="2"/>
<rect x="114" y="2330" width="35" height="33" fill="none" stroke="#2a2f80" stroke-width="3"/><line x1="131" y1="2330" x2="131" y2="2363" stroke="#2a2f80" stroke-width="2"/><line x1="114" y1="2346" x2="149" y2="2346" stroke="#2a2f80" stroke-width="2"/>
<circle cx="142" cy="2356" r="11.5" fill="#30c8c8"/><rect x="135" y="2351" width="14" height="9" fill="#3a80a0"/>
<path d="M195 2363 v-22 l20 -12 l24 10 v22" fill="none" stroke="#2040f0" stroke-width="7"/><path d="M215 2345 v20" stroke="#2090e0" stroke-width="7"/>
<ellipse cx="214" cy="2339" rx="19" ry="8" fill="#30d040"/><ellipse cx="214" cy="2339" rx="12" ry="5" fill="#f0e030"/><ellipse cx="214" cy="2339" rx="6" ry="3" fill="#e04040"/>
<polygon points="70,2402 90,2394 115,2400 115,2432 93,2438 70,2430" fill="#a8acd0"/><polygon points="70,2402 90,2394 115,2400 93,2408" fill="#d0d2e8"/>
<circle cx="80" cy="2400" r="2.5" fill="#d04050"/>
<circle cx="90" cy="2396" r="2.5" fill="#d04050"/>
<circle cx="98" cy="2404" r="2.5" fill="#d04050"/>
<circle cx="106" cy="2400" r="2.5" fill="#d04050"/>
<polygon points="151,2406 170,2398 180,2404 190,2398 199,2404 199,2430 176,2438 151,2430" fill="#b02838"/><polygon points="151,2406 170,2398 176,2412 176,2438 151,2430" fill="#801828"/>
<rect x="267" y="2314" width="1263" height="74" fill="#f1f0ef"/>
<rect x="267" y="2314" width="4" height="74" fill="#c8c8c8"/>
<rect x="267" y="2384" width="1263" height="4" fill="#cdcdcd"/>
<polygon points="542.0,2314 566.0,2314 566.0,2339" fill="#fff"/>
<rect x="567.0" y="2315" width="2.5" height="18" fill="#c8c8c8"/>
<polygon points="691.0,2314 715.0,2314 715.0,2339" fill="#fff"/>
<rect x="716.0" y="2315" width="2.5" height="18" fill="#c8c8c8"/>
<polygon points="765.0,2314 789.0,2314 789.0,2339" fill="#fff"/>
<rect x="790.0" y="2315" width="2.5" height="18" fill="#c8c8c8"/>
<polygon points="988.6,2314 1012.6,2314 1012.6,2339" fill="#fff"/>
<rect x="1013.6" y="2315" width="2.5" height="18" fill="#c8c8c8"/>
<polygon points="1136.6,2314 1160.6,2314 1160.6,2339" fill="#fff"/>
<rect x="1161.6" y="2315" width="2.5" height="18" fill="#c8c8c8"/>
<polygon points="1505,2314 1530,2314 1530,2339" fill="#fff"/>
<path d="M285 2367 v-20 l12 -8 h8 v28" fill="none" stroke="#2b2f7e" stroke-width="4"/>
<path d="M289 2355 h10" stroke="#40c8d0" stroke-width="3.5"/><polygon points="298,2350 305,2355 298,2360" fill="#40c8d0"/>
<path d="M308 2355 h10" stroke="#40c8d0" stroke-width="3.5"/><polygon points="317,2350 324,2355 317,2360" fill="#40c8d0"/>
<path d="M301 2343 h10" stroke="#40c8d0" stroke-width="3.5"/><polygon points="310,2338 317,2343 310,2348" fill="#40c8d0"/>
<text x="315.0" y="2337.0" font-family='"Liberation Sans", sans-serif' font-size="22" fill="#2b2f7e" text-anchor="start" font-weight="bold" font-style="normal" >u</text>
<path d="M359 2363 v-22 q22 -16 44 0 v22" fill="none" stroke="url(#rainbowV)" stroke-width="10"/>
<ellipse cx="381" cy="2331" rx="10" ry="5" fill="#f02020"/>
<text x="381.0" y="2365.0" font-family='"Liberation Sans", sans-serif' font-size="24" fill="#2b2f7e" text-anchor="middle" font-weight="bold" font-style="normal" >U</text>
<path d="M436 2367 v-20 q20 -16 40 0 v20" fill="none" stroke="#20c020" stroke-width="7"/><path d="M438 2339 q18 -12 36 0" fill="none" stroke="#f09020" stroke-width="4"/><path d="M440 2333 q16 -10 32 0" fill="none" stroke="#2040f0" stroke-width="3"/>
<text x="456.0" y="2363.0" font-family='"Liberation Sans", sans-serif' font-size="22" fill="#2b2f7e" text-anchor="middle" font-weight="bold" font-style="normal" >σ</text>
<circle cx="530" cy="2327" r="7" fill="#c02838"/><polygon points="523,2343 537,2343 530,2334" fill="#c02838"/><path d="M530 2371 v-24" stroke="#2ec8c8" stroke-width="4"/><polygon points="523,2353 537,2353 530,2343" fill="#2ec8c8"/>
<path d="M582 2367 v-26 l22 -10 l22 10 v26" fill="none" stroke="#2b2f7e" stroke-width="4"/>
<polygon points="580,2329 590,2329 584,2359" fill="#e06070"/><polygon points="628,2329 618,2329 624,2359" fill="#e06070"/>
<text x="604.0" y="2365.0" font-family='"Liberation Sans", sans-serif' font-size="24" fill="#2b2f7e" text-anchor="middle" font-weight="bold" font-style="normal" >M</text>
<path d="M658 2367 v-26 l22 -10 l22 10 v26" fill="none" stroke="#2b2f7e" stroke-width="4"/>
<polygon points="656,2329 666,2329 660,2359" fill="#50d0d0"/><polygon points="704,2329 694,2329 700,2359" fill="#50d0d0"/>
<text x="680.0" y="2365.0" font-family='"Liberation Sans", sans-serif' font-size="24" fill="#2b2f7e" text-anchor="middle" font-weight="bold" font-style="normal" >σ</text>
<path d="M734 2367 v-20 l12 -8 h8 v28" fill="none" stroke="#2b2f7e" stroke-width="4"/>
<path d="M756 2353 v-22" stroke="#e83030" stroke-width="3"/><polygon points="752,2333 756,2325 760,2333" fill="#e83030"/>
<path d="M756 2353 h20" stroke="#30c030" stroke-width="3"/><polygon points="772,2349 780,2353 772,2357" fill="#30c030"/>
<path d="M756 2353 l16 -18" stroke="#2040e0" stroke-width="3"/>
<polygon points="802,2343 846,2343 846,2369 802,2369" fill="#2b2f7e"/><polygon points="802,2343 814,2329 856,2329 846,2343" fill="#a0a4d0"/>
<polygon points="878,2353 898,2329 926,2343 906,2367" fill="#1030f0"/>
<polygon points="886,2351 898,2337 918,2345 906,2359" fill="#20d060"/>
<circle cx="892" cy="2347" r="6" fill="#f02020"/><circle cx="912" cy="2355" r="6" fill="#f02020"/>
<polygon points="951,2353 971,2329 999,2343 979,2367" fill="#1030f0"/>
<polygon points="959,2351 971,2337 991,2345 979,2359" fill="#20d060"/>
<circle cx="965" cy="2347" r="6" fill="#f02020"/><circle cx="985" cy="2355" r="6" fill="#f02020"/>
<ellipse cx="1053" cy="2357" rx="24" ry="10" fill="none" stroke="#b0e0f0" stroke-width="3"/><rect x="1045" y="2329" width="8" height="26" fill="#f0d090"/>
<rect x="1121" y="2325" width="30" height="26" fill="none" stroke="#b0e4e4" stroke-width="3"/><polygon points="1101,2355 1121,2343 1143,2355 1121,2367" fill="none" stroke="#b8bcd8" stroke-width="3"/>
<path d="M1178 2367 v-26 l22 -10 l22 10 v26" fill="none" stroke="#c0c4dc" stroke-width="3"/>
<text x="1200.0" y="2363.0" font-family='"Liberation Sans", sans-serif' font-size="24" fill="#b0b4d4" text-anchor="middle" font-weight="normal" font-style="italic" >f</text>
<path d="M1252 2367 v-26 l22 -10 l22 10 v26" fill="none" stroke="#c0c4dc" stroke-width="3"/>
<text x="1274.0" y="2363.0" font-family='"Liberation Sans", sans-serif' font-size="24" fill="#b0b4d4" text-anchor="middle" font-weight="normal" font-style="italic" >α</text>
<rect x="1342" y="2323" width="30" height="26" fill="none" stroke="#2ec8c8" stroke-width="3.5"/><rect x="1326" y="2347" width="22" height="22" fill="#2b2f7e"/>
<rect x="1416" y="2323" width="30" height="26" fill="none" stroke="#2ec8c8" stroke-width="3.5"/><circle cx="1412" cy="2355" r="13" fill="#2b2f7e"/>
<polygon points="1472,2349 1520,2349 1520,2369 1472,2369" fill="#2b2f7e"/><polygon points="1472,2349 1482,2329 1510,2329 1520,2349" fill="#a8acd4"/><rect x="1492" y="2331" width="8" height="30" fill="#e05060"/>
<rect x="2367" y="2315" width="296" height="74" fill="#f1f0ef"/>
<rect x="2367" y="2315" width="4" height="74" fill="#c8c8c8"/>
<rect x="2367" y="2385" width="296" height="4" fill="#cdcdcd"/>
<circle cx="2407" cy="2345" r="15" fill="none" stroke="#2b2f7e" stroke-width="4.5"/><line x1="2418" y1="2356" x2="2428" y2="2366" stroke="#2b2f7e" stroke-width="6"/>
<path d="M2387 2329 v-8 h8 M2420 2321 h8 v8 M2387 2361 v8 h8" fill="none" stroke="#2ec8c8" stroke-width="4"/>
<polygon points="2461,2335 2481,2325 2501,2335 2501,2359 2481,2369 2461,2359" fill="#fff" stroke="#2b2f7e" stroke-width="3.5" stroke-linejoin="round"/>
<polygon points="2483,2345 2499,2337 2499,2358 2483,2366" fill="#2ec8c8"/>
<path d="M2461 2335 L2481 2345 L2501 2335 M2481 2345 V2369" fill="none" stroke="#2b2f7e" stroke-width="2.5"/>
<path d="M2540 2359 q17 -16 34 0 q-17 16 -34 0 z" fill="none" stroke="#2b2f7e" stroke-width="3.5"/><circle cx="2557" cy="2359" r="7" fill="#2b2f7e"/>
<path d="M2615 2359 q17 -16 34 0 q-17 16 -34 0 z" fill="none" stroke="#b8b8d8" stroke-width="3.5"/><circle cx="2632" cy="2359" r="7" fill="#b8b8d8"/>
<path d="M2567 2341 q-2 -14 -18 -14 h-10" fill="none" stroke="#2ec8c8" stroke-width="4"/><polygon points="2540,2327 2550,2319 2550,2335" fill="#2ec8c8"/>
<path d="M2622 2341 q2 -14 18 -14 h10" fill="none" stroke="#b8e8e8" stroke-width="4"/><polygon points="2650,2327 2640,2319 2640,2335" fill="#b8e8e8"/>
<rect x="2763" y="1471" width="76" height="741" fill="#f1f0ef"/>
<rect x="2763" y="1471" width="4" height="741" fill="#d0d0d0"/>
<rect x="2768" y="1617" width="68" height="70" fill="#f6f6f4" stroke="#34c2c8" stroke-width="5"/>
<rect x="2768" y="1691" width="68" height="70" fill="#f6f6f4" stroke="#34c2c8" stroke-width="5"/>
<rect x="2768" y="1765" width="68" height="70" fill="#f6f6f4" stroke="#34c2c8" stroke-width="5"/>
<rect x="2768" y="1839" width="68" height="70" fill="#f6f6f4" stroke="#34c2c8" stroke-width="5"/>
<rect x="2768" y="1913" width="68" height="70" fill="#f6f6f4" stroke="#34c2c8" stroke-width="5"/>
<rect x="2768" y="1987" width="68" height="70" fill="#f6f6f4" stroke="#34c2c8" stroke-width="5"/>
<path d="M2787 1523 v-26 l26 -8 M2795 1523 v-22 l22 -8" fill="none" stroke="#2b2f7e" stroke-width="4"/>
<path d="M2791 1597 v-26 l26 -8" fill="none" stroke="#2ec8c8" stroke-width="8"/><path d="M2785 1595 v-26 l26 -8" fill="none" stroke="#2b2f7e" stroke-width="4"/>
<circle cx="2791" cy="1640" r="6" fill="#c02838"/><polygon points="2781,1660 2801,1660 2791,1644" fill="#c02838"/>
<circle cx="2811" cy="1650" r="6" fill="#f0b0b8"/><polygon points="2801,1670 2821,1670 2811,1654" fill="#f0b0b8"/>
<path d="M2789 1712 v26 M2813 1712 v26" stroke="#2b2f7e" stroke-width="3"/><circle cx="2789" cy="1710" r="5" fill="#2b2f7e"/><circle cx="2813" cy="1710" r="5" fill="#b8b8d8"/>
<ellipse cx="2801" cy="1787" rx="18" ry="7" fill="none" stroke="#2b2f7e" stroke-width="3"/><path d="M2783 1787 v24 a18 7 0 0 0 36 0 v-24" fill="none" stroke="#2b2f7e" stroke-width="3"/><path d="M2783 1797 a18 7 0 0 0 36 0 M2783 1805 a18 7 0 0 0 36 0" fill="none" stroke="#2b2f7e" stroke-width="3"/>
<rect x="2783" y="1875" width="12" height="12" fill="#d06070"/><path d="M2789 1855 v36" stroke="#2b2f7e" stroke-width="3"/><polygon points="2795,1869 2805,1855 2821,1855 2821,1865" fill="#2ec8c8"/>
<rect x="2785" y="1930" width="8" height="32" fill="none" stroke="#2b2f7e" stroke-width="3"/><polygon points="2795,1946 2805,1930 2821,1930 2821,1940" fill="#2ec8c8"/>
<circle cx="2787" cy="2008" r="3.5" fill="#2b2f7e"/>
<circle cx="2787" cy="2022" r="3.5" fill="#2b2f7e"/>
<circle cx="2787" cy="2036" r="3.5" fill="#2b2f7e"/>
<circle cx="2801" cy="2008" r="3.5" fill="#2b2f7e"/>
<circle cx="2801" cy="2022" r="3.5" fill="#2b2f7e"/>
<circle cx="2801" cy="2036" r="3.5" fill="#2b2f7e"/>
<circle cx="2815" cy="2008" r="3.5" fill="#2b2f7e"/>
<circle cx="2815" cy="2022" r="3.5" fill="#2b2f7e"/>
<circle cx="2815" cy="2036" r="3.5" fill="#2b2f7e"/>
<rect x="2785" y="2083" width="32" height="30" fill="none" stroke="#d06070" stroke-width="2.5" stroke-dasharray="4 3"/><path d="M2792 2098 l7 7 l14 -14" stroke="#2ec8c8" stroke-width="4" fill="none"/>
<path d="M2789 2154 h24 M2789 2162 h24" stroke="#2ec8c8" stroke-width="4"/><path d="M2785 2182 q16 -12 32 0 q-16 12 -32 0z" fill="none" stroke="#2b2f7e" stroke-width="3"/><circle cx="2801" cy="2182" r="6" fill="#2b2f7e"/>
<ellipse cx="2802" cy="2340" rx="118" ry="112" fill="url(#cubeGlow)"/>
<ellipse cx="2802" cy="2392" rx="113" ry="50" fill="none" stroke="#c8c8c8" stroke-width="7" stroke-dasharray="1.6 7"/>
<path d="M2890 2360 A113 50 0 0 1 2835 2440" fill="none" stroke="#5a5a5a" stroke-width="8" stroke-dasharray="1.8 6"/>
<path d="M2835 2440 A113 50 0 0 1 2730 2430" fill="none" stroke="#8a8a8a" stroke-width="7" stroke-dasharray="1.8 6"/>
<polygon points="2734.3,2299.6 2792.8,2266.5 2870.4,2292 2869,2381 2810.6,2412.8 2734.3,2388.6" fill="#a2a2a2"/>
<polygon points="2792.8,2266.5 2870.4,2292 2869,2381 2792.8,2355" fill="#989898"/>
<polygon points="2734.3,2299.6 2792.8,2266.5 2792.8,2355 2734.3,2388.6" fill="#8c8c8c"/>
<polygon points="2734.3,2388.6 2792.8,2355 2869,2381 2810.6,2412.8" fill="#a8a8a8"/>
<polygon points="2734.3,2299.6 2810.6,2322.5 2810.6,2412.8 2734.3,2388.6" fill="#b0b0b0" fill-opacity="0.55"/>
<polygon points="2810.6,2322.5 2870.4,2292 2869,2381 2810.6,2412.8" fill="#a0a0a0" fill-opacity="0.55"/>
<path d="M2792.8 2266.5 V2355 M2734.3 2388.6 L2792.8 2355 L2869 2381" fill="none" stroke="#b8b8b8" stroke-width="2"/>
<polygon points="2734.3,2299.6 2792.8,2266.5 2870.4,2292 2869,2381 2810.6,2412.8 2734.3,2388.6" fill="none" stroke="#fff" stroke-width="4.5" stroke-linejoin="round"/>
<path d="M2734.3 2299.6 L2810.6 2322.5 L2870.4 2292 M2810.6 2322.5 V2412.8" fill="none" stroke="#fff" stroke-width="4.5"/>
<path d="M2740 2346 A100 40 0 0 1 2860 2346" fill="none" stroke="#e8e8e8" stroke-width="4" stroke-dasharray="1.6 12" opacity="0.8"/>
<polygon points="2869,2406 2900,2416 2893,2431 2886,2431" fill="#f06868"/>
<polygon points="2854,2353 2876,2345 2874,2361" fill="#60c060"/>
<path d="M2694 2231 v18 a9 9 0 1 0 7 0" fill="none" stroke="#d4d4d4" stroke-width="4"/>
<rect x="2944" y="0" width="910" height="2475" fill="#eeeeee"/>
<rect x="2944" y="0" width="910" height="86" fill="#dcdfe9"/>
<rect x="2943" y="0" width="4" height="11" fill="#dcdfe9"/>
<rect x="2948" y="7" width="75" height="79" fill="#fdfdf9"/>
<path d="M2963 33 q19 -14 40 -3 l8 3" fill="none" stroke="#c8cce8" stroke-width="6"/>
<rect x="2961" y="33" width="10" height="25" rx="3" fill="#1e2478"/><rect x="3003" y="31" width="10" height="25" rx="3" fill="#1e2478"/><rect x="2985" y="42" width="9" height="23" rx="3" fill="#1e2478"/>
<polygon points="2970,33 2980,24 2990,28 3003,31 2994,43 2985,43" fill="#3a3f90" opacity="0.7"/>
<rect x="2948" y="86" width="906" height="56" fill="#fefdf9"/>
<text x="3372.0" y="126.0" font-family='"Liberation Sans", sans-serif' font-size="27" fill="#2e3368" text-anchor="middle" font-weight="bold" font-style="normal" textLength="157.0" lengthAdjust="spacingAndGlyphs" >RESULTS (1)</text>
<polyline points="3749,131 3749,108 3765.5,95.5 3782,108 3782,132 3765.5,117 3749,131" fill="none" stroke="#9a1428" stroke-width="4" stroke-linejoin="miter"/>
<rect x="3799" y="91" width="4" height="52" fill="#c8c8c8"/>
<rect x="3803" y="91" width="51" height="51" fill="#f3f3f1"/>
<path d="M3818 101 l26 25 M3844 101 l-26 25" stroke="#2b2e80" stroke-width="4"/>
<rect x="2948" y="142" width="851" height="4" fill="#a8acb8"/>
<rect x="3799" y="142" width="55" height="4" fill="#85888f"/>
<rect x="2944" y="11" width="4" height="2464" fill="#a9adb8"/>
<rect x="3836" y="146" width="6" height="2050" fill="#e6e8ee"/>
<rect x="3842" y="146" width="5" height="1544" fill="#6e6e6e"/>
<rect x="3847" y="146" width="7" height="1544" fill="#fefef9"/>
<rect x="3842" y="1690" width="12" height="502" fill="#7a7a7a"/>
<text x="3373.0" y="184.0" font-family='"Liberation Sans", sans-serif' font-size="27.5" fill="#2e3368" text-anchor="end" font-weight="normal" font-style="normal" textLength="73.6" lengthAdjust="spacingAndGlyphs" >Name</text>
<text x="3411.0" y="184.0" font-family='"Liberation Sans", sans-serif' font-size="28" fill="#343a7c" text-anchor="start" font-weight="normal" font-style="normal" textLength="220.0" lengthAdjust="spacingAndGlyphs" stroke="#343a7c" stroke-width="0.5">3D displacement</text>
<rect x="3387" y="203.0" width="432" height="4" fill="#bebebe"/><rect x="3387" y="207.0" width="432" height="4" fill="#aaaeb8"/>
<rect x="2948" y="207.0" width="439" height="4" fill="#a9adb8"/>
<rect x="2948" y="213.0" width="888" height="40.0" fill="#fefdf9"/>
<polygon points="3819,213.0 3836,213.0 3836,230.0" fill="#e6e8ee"/>
<rect x="2944" y="212.0" width="4" height="4.5" fill="#e0e2ee"/>
<polygon points="2966,227.0 2988,227.0 2977,239.0" fill="#262a4a"/>
<text x="3005.0" y="243.0" font-family='"Liberation Sans", sans-serif' font-size="28" fill="#2e3368" text-anchor="start" font-weight="normal" font-style="normal" textLength="141.0" lengthAdjust="spacingAndGlyphs" >SELECTION</text>
<text x="3373.0" y="291.0" font-family='"Liberation Sans", sans-serif' font-size="27.5" fill="#2e3368" text-anchor="end" font-weight="normal" font-style="normal" textLength="206.0" lengthAdjust="spacingAndGlyphs" >Type of selection</text>
<text x="3411.0" y="291.0" font-family='"Liberation Sans", sans-serif' font-size="28" fill="#343a7c" text-anchor="start" font-weight="normal" font-style="normal" textLength="31.8" lengthAdjust="spacingAndGlyphs" stroke="#343a7c" stroke-width="0.5">All</text>
<polyline points="3787,275.0 3800,287.0 3813,275.0" fill="none" stroke="#2e3368" stroke-width="2.2"/>
<rect x="3387" y="309.0" width="432" height="3.5" fill="#b8b8b8"/>
<text x="3373.0" y="351.0" font-family='"Liberation Sans", sans-serif' font-size="27.5" fill="#2e3368" text-anchor="end" font-weight="normal" font-style="normal" textLength="61.0" lengthAdjust="spacingAndGlyphs" >Filter</text>
<text x="3411.0" y="351.0" font-family='"Liberation Sans", sans-serif' font-size="28" fill="#343a7c" text-anchor="start" font-weight="normal" font-style="normal" textLength="36.6" lengthAdjust="spacingAndGlyphs" stroke="#343a7c" stroke-width="0.5">No</text>
<polyline points="3787,335.0 3800,347.0 3813,335.0" fill="none" stroke="#2e3368" stroke-width="2.2"/>
<rect x="3387" y="368.0" width="432" height="4" fill="#bebebe"/><rect x="3387" y="372.0" width="432" height="4" fill="#aaaeb8"/>
<rect x="2948" y="372.0" width="439" height="4" fill="#a9adb8"/>
<rect x="2948" y="380.0" width="888" height="40.0" fill="#fefdf9"/>
<polygon points="3819,380.0 3836,380.0 3836,397.0" fill="#e6e8ee"/>
<rect x="2944" y="379.0" width="4" height="4.5" fill="#e0e2ee"/>
<polygon points="2966,394.0 2988,394.0 2977,406.0" fill="#262a4a"/>
<text x="3005.0" y="410.0" font-family='"Liberation Sans", sans-serif' font-size="28" fill="#2e3368" text-anchor="start" font-weight="normal" font-style="normal" textLength="166.0" lengthAdjust="spacingAndGlyphs" >RESULT CASE</text>
<text x="3373.0" y="458.0" font-family='"Liberation Sans", sans-serif' font-size="27.5" fill="#2e3368" text-anchor="end" font-weight="normal" font-style="normal" textLength="152.0" lengthAdjust="spacingAndGlyphs" >Type of load</text>
<text x="3411.0" y="458.0" font-family='"Liberation Sans", sans-serif' font-size="28" fill="#343a7c" text-anchor="start" font-weight="normal" font-style="normal" textLength="142.0" lengthAdjust="spacingAndGlyphs" stroke="#343a7c" stroke-width="0.5">Load cases</text>
<polyline points="3787,442.0 3800,454.0 3813,442.0" fill="none" stroke="#2e3368" stroke-width="2.2"/>
<rect x="3387" y="476.0" width="432" height="3.5" fill="#b8b8b8"/>
<text x="3373.0" y="518.0" font-family='"Liberation Sans", sans-serif' font-size="27.5" fill="#2e3368" text-anchor="end" font-weight="normal" font-style="normal" textLength="124.5" lengthAdjust="spacingAndGlyphs" >Load case</text>
<text x="3411.0" y="518.0" font-family='"Liberation Sans", sans-serif' font-size="28" fill="#343a7c" text-anchor="start" font-weight="normal" font-style="normal" textLength="85.5" lengthAdjust="spacingAndGlyphs" stroke="#343a7c" stroke-width="0.5">LC2 - p</text>
<polyline points="3787,502.0 3800,514.0 3813,502.0" fill="none" stroke="#2e3368" stroke-width="2.2"/>
<rect x="3387" y="535.0" width="432" height="4" fill="#bebebe"/><rect x="3387" y="539.0" width="432" height="4" fill="#aaaeb8"/>
<rect x="2948" y="539.0" width="439" height="4" fill="#a9adb8"/>
<rect x="2948" y="545" width="888" height="3" fill="#fefdf9"/>
<text x="3373.0" y="587.0" font-family='"Liberation Sans", sans-serif' font-size="27.5" fill="#2e3368" text-anchor="end" font-weight="normal" font-style="normal" textLength="127.3" lengthAdjust="spacingAndGlyphs" >Wireframe</text>
<rect x="3412.5" y="560.0" width="70" height="34" rx="17" fill="#fff" stroke="#c8202f" stroke-width="3"/>
<circle cx="3429.5" cy="577.0" r="17" fill="#fff" stroke="#c8202f" stroke-width="3"/>
<rect x="3387" y="607.0" width="432" height="3.5" fill="#b8b8b8"/>
<text x="3373.0" y="648.0" font-family='"Liberation Sans", sans-serif' font-size="27.5" fill="#2e3368" text-anchor="end" font-weight="normal" font-style="normal" textLength="108.2" lengthAdjust="spacingAndGlyphs" >Location</text>
<text x="3411.0" y="648.0" font-family='"Liberation Sans", sans-serif' font-size="28" fill="#343a7c" text-anchor="start" font-weight="normal" font-style="normal" textLength="303.0" lengthAdjust="spacingAndGlyphs" stroke="#343a7c" stroke-width="0.5">In nodes avg. on macro</text>
<polyline points="3787,632.0 3800,644.0 3813,632.0" fill="none" stroke="#2e3368" stroke-width="2.2"/>
<rect x="3387" y="667.0" width="432" height="3.5" fill="#b8b8b8"/>
<text x="3373.0" y="708.0" font-family='"Liberation Sans", sans-serif' font-size="27.5" fill="#2e3368" text-anchor="end" font-weight="normal" font-style="normal" textLength="67.6" lengthAdjust="spacingAndGlyphs" >Value</text>
<text x="3411.0" y="708.0" font-family='"Liberation Sans", sans-serif' font-size="28" fill="#343a7c" text-anchor="start" font-weight="normal" font-style="normal" textLength="95.5" lengthAdjust="spacingAndGlyphs" stroke="#343a7c" stroke-width="0.5">U_total</text>
<polyline points="3787,692.0 3800,704.0 3813,692.0" fill="none" stroke="#2e3368" stroke-width="2.2"/>
<rect x="3387" y="728.0" width="432" height="3.5" fill="#b8b8b8"/>
<text x="3373.0" y="769.0" font-family='"Liberation Sans", sans-serif' font-size="27.5" fill="#2e3368" text-anchor="end" font-weight="normal" font-style="normal" textLength="89.5" lengthAdjust="spacingAndGlyphs" >System</text>
<text x="3411.0" y="769.0" font-family='"Liberation Sans", sans-serif' font-size="28" fill="#343a7c" text-anchor="start" font-weight="normal" font-style="normal" textLength="242.0" lengthAdjust="spacingAndGlyphs" stroke="#343a7c" stroke-width="0.5">LCS mesh element</text>
<polyline points="3787,753.0 3800,765.0 3813,753.0" fill="none" stroke="#2e3368" stroke-width="2.2"/>
<rect x="3387" y="788.0" width="432" height="3.5" fill="#b8b8b8"/>
<text x="3373.0" y="829.0" font-family='"Liberation Sans", sans-serif' font-size="27.5" fill="#2e3368" text-anchor="end" font-weight="normal" font-style="normal" textLength="141.2" lengthAdjust="spacingAndGlyphs" >Extreme 1D</text>
<text x="3411.0" y="829.0" font-family='"Liberation Sans", sans-serif' font-size="28" fill="#343a7c" text-anchor="start" font-weight="normal" font-style="normal" textLength="84.3" lengthAdjust="spacingAndGlyphs" stroke="#343a7c" stroke-width="0.5">Global</text>
<polyline points="3787,813.0 3800,825.0 3813,813.0" fill="none" stroke="#2e3368" stroke-width="2.2"/>
<rect x="3387" y="848.0" width="432" height="3.5" fill="#b8b8b8"/>
<text x="3373.0" y="889.0" font-family='"Liberation Sans", sans-serif' font-size="27.5" fill="#2e3368" text-anchor="end" font-weight="normal" font-style="normal" textLength="141.2" lengthAdjust="spacingAndGlyphs" >Extreme 2D</text>
<text x="3411.0" y="889.0" font-family='"Liberation Sans", sans-serif' font-size="28" fill="#343a7c" text-anchor="start" font-weight="normal" font-style="normal" textLength="84.3" lengthAdjust="spacingAndGlyphs" stroke="#343a7c" stroke-width="0.5">Global</text>
<polyline points="3787,873.0 3800,885.0 3813,873.0" fill="none" stroke="#2e3368" stroke-width="2.2"/>
<rect x="3387" y="907.0" width="432" height="4" fill="#bebebe"/><rect x="3387" y="911.0" width="432" height="4" fill="#aaaeb8"/>
<rect x="2948" y="911.0" width="439" height="4" fill="#a9adb8"/>
<rect x="2948" y="918.0" width="888" height="40.0" fill="#fefdf9"/>
<polygon points="3819,918.0 3836,918.0 3836,935.0" fill="#e6e8ee"/>
<rect x="2944" y="917.0" width="4" height="4.5" fill="#e0e2ee"/>
<polygon points="2966,932.0 2988,932.0 2977,944.0" fill="#262a4a"/>
<text x="3005.0" y="948.0" font-family='"Liberation Sans", sans-serif' font-size="28" fill="#2e3368" text-anchor="start" font-weight="normal" font-style="normal" textLength="332.0" lengthAdjust="spacingAndGlyphs" >CALCULATE RESULTS ON ...</text>
<text x="3373.0" y="996.0" font-family='"Liberation Sans", sans-serif' font-size="27.5" fill="#2e3368" text-anchor="end" font-weight="normal" font-style="normal" textLength="154.0" lengthAdjust="spacingAndGlyphs" >1D members</text>
<rect x="3411" y="967.5" width="73" height="37" rx="18.5" fill="#2fbec6"/>
<circle cx="3465" cy="986.0" r="15.5" fill="#fff"/>
<polyline points="3458,985.0 3464,992.0 3473,979.0" fill="none" stroke="#2fbec6" stroke-width="3.5"/>
<rect x="3387" y="1015.0" width="432" height="3.5" fill="#b8b8b8"/>
<text x="3373.0" y="1055.0" font-family='"Liberation Sans", sans-serif' font-size="27.5" fill="#2e3368" text-anchor="end" font-weight="normal" font-style="normal" textLength="195.0" lengthAdjust="spacingAndGlyphs" >2D positive face</text>
<rect x="3411" y="1026.5" width="73" height="37" rx="18.5" fill="#2fbec6"/>
<circle cx="3465" cy="1045.0" r="15.5" fill="#fff"/>
<polyline points="3458,1044.0 3464,1051.0 3473,1038.0" fill="none" stroke="#2fbec6" stroke-width="3.5"/>
<rect x="3387" y="1076.0" width="432" height="3.5" fill="#b8b8b8"/>
<text x="3373.0" y="1115.0" font-family='"Liberation Sans", sans-serif' font-size="27.5" fill="#2e3368" text-anchor="end" font-weight="normal" font-style="normal" textLength="204.0" lengthAdjust="spacingAndGlyphs" >2D negative face</text>
<rect x="3411" y="1086.5" width="73" height="37" rx="18.5" fill="#2fbec6"/>
<circle cx="3465" cy="1105.0" r="15.5" fill="#fff"/>
<polyline points="3458,1104.0 3464,1111.0 3473,1098.0" fill="none" stroke="#2fbec6" stroke-width="3.5"/>
<rect x="3387" y="1135.0" width="432" height="4" fill="#bebebe"/><rect x="3387" y="1139.0" width="432" height="4" fill="#aaaeb8"/>
<rect x="2948" y="1139.0" width="439" height="4" fill="#a9adb8"/>
<rect x="2948" y="1146.0" width="888" height="40.0" fill="#fefdf9"/>
<polygon points="3819,1146.0 3836,1146.0 3836,1163.0" fill="#e6e8ee"/>
<rect x="2944" y="1145.0" width="4" height="4.5" fill="#e0e2ee"/>
<polygon points="2966,1160.0 2988,1160.0 2977,1172.0" fill="#262a4a"/>
<text x="3005.0" y="1176.0" font-family='"Liberation Sans", sans-serif' font-size="28" fill="#2e3368" text-anchor="start" font-weight="normal" font-style="normal" textLength="298.0" lengthAdjust="spacingAndGlyphs" >DEFORMED STRUCTURE</text>
<text x="3373.0" y="1223.0" font-family='"Liberation Sans", sans-serif' font-size="27.5" fill="#2e3368" text-anchor="end" font-weight="normal" font-style="normal" textLength="242.6" lengthAdjust="spacingAndGlyphs" >Deformed structure</text>
<rect x="3411" y="1194.5" width="73" height="37" rx="18.5" fill="#2fbec6"/>
<circle cx="3465" cy="1213.0" r="15.5" fill="#fff"/>
<polyline points="3458,1212.0 3464,1219.0 3473,1206.0" fill="none" stroke="#2fbec6" stroke-width="3.5"/>
<rect x="3387" y="1243.0" width="432" height="3.5" fill="#b8b8b8"/>
<text x="3373.0" y="1283.0" font-family='"Liberation Sans", sans-serif' font-size="27.5" fill="#2e3368" text-anchor="end" font-weight="normal" font-style="normal" textLength="384.0" lengthAdjust="spacingAndGlyphs" >For drawing use linear rotation</text>
<rect x="3412.5" y="1256.0" width="70" height="34" rx="17" fill="#fff" stroke="#c8202f" stroke-width="3"/>
<circle cx="3429.5" cy="1273.0" r="17" fill="#fff" stroke="#c8202f" stroke-width="3"/>
<rect x="3387" y="1302.0" width="432" height="4" fill="#bebebe"/><rect x="3387" y="1306.0" width="432" height="4" fill="#aaaeb8"/>
<rect x="2948" y="1306.0" width="439" height="4" fill="#a9adb8"/>
<rect x="2948" y="1313.0" width="888" height="40.0" fill="#fefdf9"/>
<polygon points="3819,1313.0 3836,1313.0 3836,1330.0" fill="#e6e8ee"/>
<rect x="2944" y="1312.0" width="4" height="4.5" fill="#e0e2ee"/>
<polygon points="2966,1327.0 2988,1327.0 2977,1339.0" fill="#262a4a"/>
<text x="3005.0" y="1343.0" font-family='"Liberation Sans", sans-serif' font-size="28" fill="#2e3368" text-anchor="start" font-weight="normal" font-style="normal" textLength="536.0" lengthAdjust="spacingAndGlyphs" >ERRORS, WARNINGS AND NOTES SETTINGS</text>
<text x="3373.0" y="1390.0" font-family='"Liberation Sans", sans-serif' font-size="27.5" fill="#2e3368" text-anchor="end" font-weight="normal" font-style="normal" textLength="414.5" lengthAdjust="spacingAndGlyphs" >Show Information about warni…</text>
<rect x="3411" y="1361.5" width="73" height="37" rx="18.5" fill="#2fbec6"/>
<circle cx="3465" cy="1380.0" r="15.5" fill="#fff"/>
<polyline points="3458,1379.0 3464,1386.0 3473,1373.0" fill="none" stroke="#2fbec6" stroke-width="3.5"/>
<rect x="3387" y="1410.0" width="432" height="3.5" fill="#b8b8b8"/>
<text x="3373.0" y="1451.0" font-family='"Liberation Sans", sans-serif' font-size="27.5" fill="#2e3368" text-anchor="end" font-weight="normal" font-style="normal" textLength="148.0" lengthAdjust="spacingAndGlyphs" >Show errors</text>
<text x="3411.0" y="1451.0" font-family='"Liberation Sans", sans-serif' font-size="28" fill="#343a7c" text-anchor="start" font-weight="normal" font-style="normal" textLength="31.8" lengthAdjust="spacingAndGlyphs" stroke="#343a7c" stroke-width="0.5">All</text>
<polyline points="3787,1435.0 3800,1447.0 3813,1435.0" fill="none" stroke="#2e3368" stroke-width="2.2"/>
<rect x="3387" y="1471.0" width="432" height="3.5" fill="#b8b8b8"/>
<text x="3373.0" y="1512.0" font-family='"Liberation Sans", sans-serif' font-size="27.5" fill="#2e3368" text-anchor="end" font-weight="normal" font-style="normal" textLength="192.0" lengthAdjust="spacingAndGlyphs" >Show warnings</text>
<text x="3411.0" y="1512.0" font-family='"Liberation Sans", sans-serif' font-size="28" fill="#343a7c" text-anchor="start" font-weight="normal" font-style="normal" textLength="31.8" lengthAdjust="spacingAndGlyphs" stroke="#343a7c" stroke-width="0.5">All</text>
<polyline points="3787,1496.0 3800,1508.0 3813,1496.0" fill="none" stroke="#2e3368" stroke-width="2.2"/>
<rect x="3387" y="1531.0" width="432" height="3.5" fill="#b8b8b8"/>
<text x="3373.0" y="1571.0" font-family='"Liberation Sans", sans-serif' font-size="27.5" fill="#2e3368" text-anchor="end" font-weight="normal" font-style="normal" textLength="143.0" lengthAdjust="spacingAndGlyphs" >Show notes</text>
<text x="3411.0" y="1571.0" font-family='"Liberation Sans", sans-serif' font-size="28" fill="#343a7c" text-anchor="start" font-weight="normal" font-style="normal" textLength="218.0" lengthAdjust="spacingAndGlyphs" stroke="#343a7c" stroke-width="0.5">In extremes only</text>
<polyline points="3787,1555.0 3800,1567.0 3813,1555.0" fill="none" stroke="#2e3368" stroke-width="2.2"/>
<rect x="3387" y="1591.0" width="432" height="3.5" fill="#b8b8b8"/>
<text x="3373.0" y="1631.0" font-family='"Liberation Sans", sans-serif' font-size="27.5" fill="#2e3368" text-anchor="end" font-weight="normal" font-style="normal" textLength="421.6" lengthAdjust="spacingAndGlyphs" >Show table with explanation of …</text>
<rect x="3411" y="1602.5" width="73" height="37" rx="18.5" fill="#2fbec6"/>
<circle cx="3465" cy="1621.0" r="15.5" fill="#fff"/>
<polyline points="3458,1620.0 3464,1627.0 3473,1614.0" fill="none" stroke="#2fbec6" stroke-width="3.5"/>
<rect x="3387" y="1651.0" width="432" height="4" fill="#bebebe"/><rect x="3387" y="1655.0" width="432" height="4" fill="#aaaeb8"/>
<rect x="2948" y="1655.0" width="439" height="4" fill="#a9adb8"/>
<rect x="2948" y="1661.0" width="888" height="40.0" fill="#fefdf9"/>
<polygon points="3819,1661.0 3836,1661.0 3836,1678.0" fill="#e6e8ee"/>
<rect x="2944" y="1660.0" width="4" height="4.5" fill="#e0e2ee"/>
<polygon points="2966,1675.0 2988,1675.0 2977,1687.0" fill="#262a4a"/>
<text x="3005.0" y="1691.0" font-family='"Liberation Sans", sans-serif' font-size="28" fill="#2e3368" text-anchor="start" font-weight="normal" font-style="normal" textLength="105.0" lengthAdjust="spacingAndGlyphs" >SYSINFO</text>
<text x="3373.0" y="1740.0" font-family='"Liberation Sans", sans-serif' font-size="27.5" fill="#2e3368" text-anchor="end" font-weight="normal" font-style="normal" textLength="134.0" lengthAdjust="spacingAndGlyphs" >Classname</text>
<text x="3411.0" y="1740.0" font-family='"Liberation Sans", sans-serif' font-size="28" fill="#b4b6ce" text-anchor="start" font-weight="normal" font-style="normal" textLength="234.7" lengthAdjust="spacingAndGlyphs" >CEP_ResultsTable</text>
<rect x="3387" y="1758.0" width="432" height="3.5" fill="#b8b8b8"/>
<text x="3373.0" y="1799.0" font-family='"Liberation Sans", sans-serif' font-size="27.5" fill="#2e3368" text-anchor="end" font-weight="normal" font-style="normal" textLength="338.0" lengthAdjust="spacingAndGlyphs" >Classname at typeinfo style</text>
<text x="3411.0" y="1799.0" font-family='"Liberation Sans", sans-serif' font-size="28" fill="#b4b6ce" text-anchor="start" font-weight="normal" font-style="normal" textLength="309.0" lengthAdjust="spacingAndGlyphs" >class CEP_ResultsTable</text>
<rect x="3387" y="1819.0" width="432" height="3.5" fill="#b8b8b8"/>
<text x="3373.0" y="1860.0" font-family='"Liberation Sans", sans-serif' font-size="27.5" fill="#2e3368" text-anchor="end" font-weight="normal" font-style="normal" textLength="280.4" lengthAdjust="spacingAndGlyphs" >Classname by typeinfo</text>
<text x="3411.0" y="1860.0" font-family='"Liberation Sans", sans-serif' font-size="28" fill="#b4b6ce" text-anchor="start" font-weight="normal" font-style="normal" textLength="298.0" lengthAdjust="spacingAndGlyphs" >class ATL::CComObject</text>
<rect x="3387" y="1880.0" width="432" height="3.5" fill="#b8b8b8"/>
<text x="3373.0" y="1921.0" font-family='"Liberation Sans", sans-serif' font-size="27.5" fill="#2e3368" text-anchor="end" font-weight="normal" font-style="normal" textLength="338.0" lengthAdjust="spacingAndGlyphs" >Raw classname by typeinfo</text>
<text x="3411.0" y="1921.0" font-family='"Liberation Sans", sans-serif' font-size="28" fill="#b4b6ce" text-anchor="start" font-weight="normal" font-style="normal" textLength="401.8" lengthAdjust="spacingAndGlyphs" >.?AV?$CComObject@VCEP_R...</text>
<rect x="3387" y="1940.0" width="432" height="3.5" fill="#b8b8b8"/>
<text x="3373.0" y="1981.0" font-family='"Liberation Sans", sans-serif' font-size="27.5" fill="#2e3368" text-anchor="end" font-weight="normal" font-style="normal" textLength="155.0" lengthAdjust="spacingAndGlyphs" >Instance size</text>
<text x="3411.0" y="1981.0" font-family='"Liberation Sans", sans-serif' font-size="28" fill="#b4b6ce" text-anchor="start" font-weight="normal" font-style="normal" textLength="46.5" lengthAdjust="spacingAndGlyphs" >688</text>
<rect x="3387" y="2000.0" width="432" height="3.5" fill="#b8b8b8"/>
<text x="3373.0" y="2041.0" font-family='"Liberation Sans", sans-serif' font-size="27.5" fill="#2e3368" text-anchor="end" font-weight="normal" font-style="normal" textLength="206.0" lengthAdjust="spacingAndGlyphs" >Module filename</text>
<text x="3411.0" y="2041.0" font-family='"Liberation Sans", sans-serif' font-size="28" fill="#b4b6ce" text-anchor="start" font-weight="normal" font-style="normal" textLength="401.8" lengthAdjust="spacingAndGlyphs" >C:\SciaTool\data\SEN_versio ...</text>
<rect x="3387" y="2061.0" width="432" height="3.5" fill="#b8b8b8"/>
<text x="3373.0" y="2102.0" font-family='"Liberation Sans", sans-serif' font-size="27.5" fill="#2e3368" text-anchor="end" font-weight="normal" font-style="normal" textLength="201.0" lengthAdjust="spacingAndGlyphs" >Source filename</text>
<text x="3411.0" y="2102.0" font-family='"Liberation Sans", sans-serif' font-size="28" fill="#b4b6ce" text-anchor="start" font-weight="normal" font-style="normal" textLength="401.8" lengthAdjust="spacingAndGlyphs" >R:\A\Src\Results\BasicResul ...</text>
<rect x="3387" y="2121.0" width="432" height="3.5" fill="#b8b8b8"/>
<text x="3373.0" y="2162.0" font-family='"Liberation Sans", sans-serif' font-size="27.5" fill="#2e3368" text-anchor="end" font-weight="normal" font-style="normal" textLength="176.0" lengthAdjust="spacingAndGlyphs" >Source line no</text>
<text x="3411.0" y="2162.0" font-family='"Liberation Sans", sans-serif' font-size="28" fill="#b4b6ce" text-anchor="start" font-weight="normal" font-style="normal" textLength="46.5" lengthAdjust="spacingAndGlyphs" >223</text>
<rect x="3387" y="2181.0" width="432" height="3.5" fill="#b8b8b8"/>
<rect x="2948" y="2194" width="906" height="41" fill="#fefdf9"/>
<text x="3005.0" y="2225.0" font-family='"Liberation Sans", sans-serif' font-size="28" fill="#2e3368" text-anchor="start" font-weight="normal" font-style="normal" textLength="110.0" lengthAdjust="spacingAndGlyphs" >ACTIONS</text>
<polyline points="3145,2206 3156,2215 3145,2224 M3153,2206" fill="none" stroke="#2e3368" stroke-width="2"/>
<polyline points="3145,2206 3156,2215 3145,2224" fill="none" stroke="#2e3368" stroke-width="2"/>
<polyline points="3156,2206 3167,2215 3156,2224" fill="none" stroke="#2e3368" stroke-width="2"/>
<polyline points="3167,2206 3178,2215 3167,2224" fill="none" stroke="#2e3368" stroke-width="2"/>
<path d="M2972 2262 a16 16 0 0 1 30 -8" fill="none" stroke="#f08030" stroke-width="6"/><polygon points="2998,2243 3010,2250 2998,2258" fill="#f08030"/>
<path d="M3004 2262 a16 16 0 0 1 -30 8" fill="none" stroke="#f08030" stroke-width="6"/><polygon points="2978,2281 2966,2274 2978,2266" fill="#f08030"/>
<text x="3028.0" y="2270.0" font-family='"Liberation Sans", sans-serif' font-size="27.5" fill="#2a2f80" text-anchor="start" font-weight="normal" font-style="normal" textLength="89.5" lengthAdjust="spacingAndGlyphs" >Refresh</text>
<text x="3839.0" y="2272.0" font-family='"Liberation Sans", sans-serif' font-size="27" fill="#2a2f6b" text-anchor="end" font-weight="bold" font-style="normal" >F5</text>
<circle cx="2987.5" cy="2324" r="18" fill="none" stroke="#1a1a70" stroke-width="4"/><polyline points="2984,2316 2992,2324 2984,2332" fill="none" stroke="#1a1a70" stroke-width="3.5"/>
<text x="3028.0" y="2331.0" font-family='"Liberation Sans", sans-serif' font-size="27.5" fill="#2a2f80" text-anchor="start" font-weight="normal" font-style="normal" textLength="217.0" lengthAdjust="spacingAndGlyphs" >Drawing setup 3D</text>
<circle cx="2987.5" cy="2384" r="18" fill="none" stroke="#1a1a70" stroke-width="4"/><polyline points="2984,2376 2992,2384 2984,2392" fill="none" stroke="#1a1a70" stroke-width="3.5"/>
<text x="3028.0" y="2391.0" font-family='"Liberation Sans", sans-serif' font-size="27.5" fill="#2a2f80" text-anchor="start" font-weight="normal" font-style="normal" textLength="155.5" lengthAdjust="spacingAndGlyphs" >Results table</text>
<rect x="2967" y="2424" width="42" height="8" fill="#1a1a70"/><rect x="2972" y="2432" width="32" height="34" fill="#3cc8c8"/>
<rect x="2975" y="2440" width="26" height="5" fill="#e8f8f8"/>
<rect x="2975" y="2448" width="26" height="5" fill="#e8f8f8"/>
<rect x="2975" y="2456" width="26" height="5" fill="#e8f8f8"/>
<rect x="2983" y="2437" width="2.5" height="26" fill="#3cc8c8"/><rect x="2992" y="2437" width="2.5" height="26" fill="#3cc8c8"/>
<text x="3028.0" y="2450.0" font-family='"Liberation Sans", sans-serif' font-size="27.5" fill="#2a2f80" text-anchor="start" font-weight="normal" font-style="normal" textLength="190.0" lengthAdjust="spacingAndGlyphs" >Report preview</text>
</svg></body></html>
